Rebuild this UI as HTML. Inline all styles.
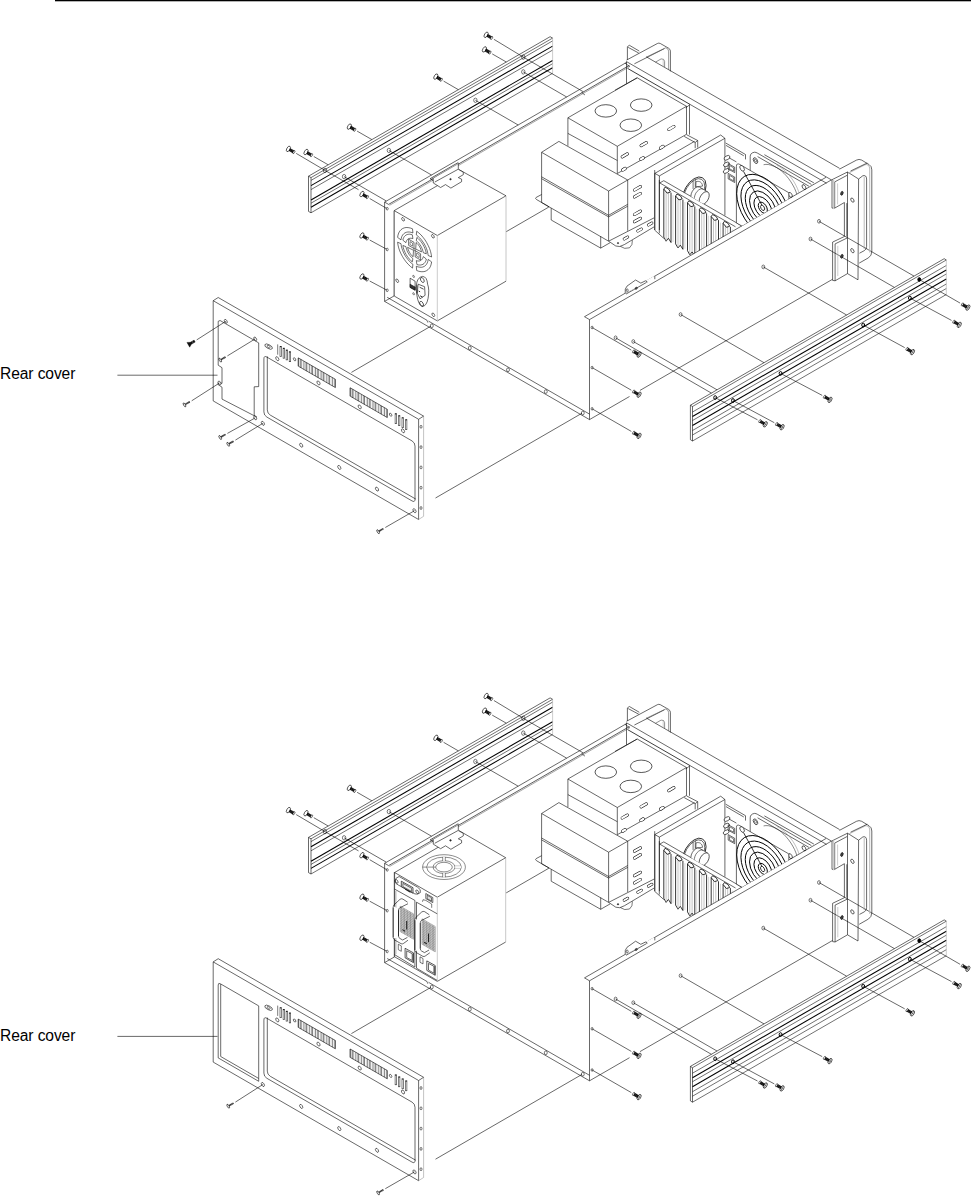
<!DOCTYPE html>
<html><head><meta charset="utf-8"><title>Rear cover</title>
<style>
html,body{margin:0;padding:0;background:#fff;}
body{width:971px;height:1196px;overflow:hidden;position:relative;font-family:"Liberation Sans",sans-serif;}
svg{position:absolute;left:0;top:0;}
.lbl{position:absolute;left:0;font-size:15.6px;line-height:18px;color:#000;white-space:nowrap;letter-spacing:-0.1px;}
</style></head><body>
<svg width="971" height="1196" viewBox="0 0 971 1196" fill="none" stroke-linecap="butt" stroke-linejoin="miter">
<rect x="55" y="0" width="916" height="1.3" fill="#000"/>
<g id="top">
<path d="M308.5 176.2L550.1 36.7" stroke="#000" stroke-width="0.59"/>
<path d="M308.5 176.2L311.0 177.6L311.0 212.8L308.5 211.4L308.5 176.2" stroke="#000" stroke-width="0.59" fill="none"/>
<path d="M311.0 177.6L552.6 38.1" stroke="#000" stroke-width="0.56"/>
<path d="M311.0 180.4L552.6 40.9" stroke="#000" stroke-width="0.56"/>
<path d="M311.0 185.6L552.6 46.1" stroke="#000" stroke-width="1.06"/>
<path d="M311.0 189.6L552.6 50.1" stroke="#000" stroke-width="0.56"/>
<path d="M311.0 200.0L552.6 60.5" stroke="#000" stroke-width="1.06"/>
<path d="M311.0 203.2L552.6 63.7" stroke="#000" stroke-width="0.56"/>
<path d="M311.0 207.2L552.6 67.7" stroke="#000" stroke-width="1.06"/>
<path d="M311.0 212.8L552.6 73.3" stroke="#000" stroke-width="0.56"/>
<path d="M550.1 36.7L552.6 38.1" stroke="#000" stroke-width="0.59"/>
<path d="M552.6 38.1L552.6 73.3" stroke="#aaa" stroke-width="0.59"/>
<path d="M690.4 405.2L944.2 258.7" stroke="#000" stroke-width="0.59"/>
<path d="M690.4 405.2L692.5 406.5L692.5 441.0L690.4 439.7L690.4 405.2" stroke="#000" stroke-width="0.59" fill="none"/>
<path d="M692.5 406.5L946.3 260.0" stroke="#000" stroke-width="0.56"/>
<path d="M692.5 412.0L946.3 265.5" stroke="#000" stroke-width="0.56"/>
<path d="M692.5 416.5L946.3 270.0" stroke="#000" stroke-width="1.06"/>
<path d="M692.5 420.5L946.3 274.0" stroke="#000" stroke-width="0.56"/>
<path d="M692.5 425.5L946.3 279.0" stroke="#000" stroke-width="1.06"/>
<path d="M692.5 430.5L946.3 284.0" stroke="#000" stroke-width="0.56"/>
<path d="M692.5 435.0L946.3 288.5" stroke="#000" stroke-width="0.56"/>
<path d="M692.5 441.0L946.3 294.5" stroke="#000" stroke-width="0.56"/>
<path d="M944.2 258.7L946.3 260.0" stroke="#000" stroke-width="0.59"/>
<path d="M946.3 260.0L946.3 294.5" stroke="#aaa" stroke-width="0.59"/>
<path d="M384.6 202.1L384.6 301.4" stroke="#000" stroke-width="0.59"/>
<path d="M394.3 211.0L394.3 296.0" stroke="#000" stroke-width="0.59"/>
<ellipse cx="387.2" cy="208.7" rx="1.02" ry="1.32" transform="rotate(0.0 387.2 208.7)" stroke="#000" stroke-width="0.53" fill="none"/>
<ellipse cx="387.2" cy="249.5" rx="1.02" ry="1.32" transform="rotate(0.0 387.2 249.5)" stroke="#000" stroke-width="0.53" fill="none"/>
<ellipse cx="387.2" cy="290.3" rx="1.02" ry="1.32" transform="rotate(0.0 387.2 290.3)" stroke="#000" stroke-width="0.53" fill="none"/>
<path d="M384.6 202.1L626.7 62.3" stroke="#000" stroke-width="0.59"/>
<path d="M384.6 202.1L388.6 204.4" stroke="#000" stroke-width="0.59"/>
<path d="M388.6 204.4L629.5 65.3" stroke="#222" stroke-width="0.73"/>
<path d="M389.5 205.3L629.5 66.7" stroke="#555" stroke-width="0.53"/>
<path d="M384.6 301.4L589.5 419.6" stroke="#000" stroke-width="0.59"/>
<path d="M387.2 297.3L427.0 320.3" stroke="#000" stroke-width="0.59"/>
<path d="M427.0 320.2L427.8 322.6" stroke="#000" stroke-width="0.53"/>
<path d="M428.5 321.1L589.5 414.1" stroke="#000" stroke-width="0.59"/>
<path d="M384.6 301.4L394.3 295.8" stroke="#000" stroke-width="0.59"/>
<ellipse cx="431.8" cy="325.8" rx="1.44" ry="1.87" transform="rotate(0.0 431.8 325.8)" stroke="#000" stroke-width="0.53" fill="none"/>
<ellipse cx="469.8" cy="348.0" rx="1.44" ry="1.87" transform="rotate(0.0 469.8 348.0)" stroke="#000" stroke-width="0.53" fill="none"/>
<ellipse cx="508.0" cy="369.8" rx="1.44" ry="1.87" transform="rotate(0.0 508.0 369.8)" stroke="#000" stroke-width="0.53" fill="none"/>
<ellipse cx="545.8" cy="391.6" rx="1.44" ry="1.87" transform="rotate(0.0 545.8 391.6)" stroke="#000" stroke-width="0.53" fill="none"/>
<ellipse cx="582.8" cy="413.0" rx="1.44" ry="1.87" transform="rotate(0.0 582.8 413.0)" stroke="#000" stroke-width="0.53" fill="none"/>
<path d="M589.5 319.6L589.5 419.6" stroke="#000" stroke-width="0.59"/>
<path d="M589.5 319.6L831.6 179.8" stroke="#000" stroke-width="0.59"/>
<path d="M589.5 319.6L584.5 316.7" stroke="#000" stroke-width="0.59"/>
<path d="M584.5 316.7L826.0 177.3" stroke="#000" stroke-width="0.59"/>
<path d="M589.5 419.6L629.5 396.5" stroke="#000" stroke-width="0.59"/>
<path d="M640.0 390.4L832.5 279.3" stroke="#000" stroke-width="0.59"/>
<ellipse cx="592.1" cy="327.5" rx="1.02" ry="1.32" transform="rotate(0.0 592.1 327.5)" stroke="#000" stroke-width="0.53" fill="none"/>
<path d="M592.1 327.5L631.3 350.1" stroke="#000" stroke-width="0.59"/>
<ellipse cx="639.1" cy="354.6" rx="1.60" ry="3.00" transform="rotate(-150.0 639.1 354.6)" stroke="#000" stroke-width="0.59" fill="#fff"/>
<path d="M637.9 356.7L640.3 352.6" stroke="#222" stroke-width="0.59"/>
<path d="M637.8 353.6L640.4 355.6" stroke="#333" stroke-width="0.53"/>
<path d="M638.1 354.1L633.9 351.6" stroke="#0a0a0a" stroke-width="2.97"/>
<path d="M635.8 354.7L637.5 351.8" stroke="#888" stroke-width="0.26"/>
<path d="M634.4 353.9L636.1 350.9" stroke="#888" stroke-width="0.26"/>
<ellipse cx="633.6" cy="351.4" rx="0.80" ry="1.70" transform="rotate(-150.0 633.6 351.4)" stroke="#000" stroke-width="0.53" fill="#fff"/>
<ellipse cx="592.1" cy="367.6" rx="1.02" ry="1.32" transform="rotate(0.0 592.1 367.6)" stroke="#000" stroke-width="0.53" fill="none"/>
<path d="M592.1 367.6L631.3 390.2" stroke="#000" stroke-width="0.59"/>
<ellipse cx="639.1" cy="394.7" rx="1.60" ry="3.00" transform="rotate(-150.0 639.1 394.7)" stroke="#000" stroke-width="0.59" fill="#fff"/>
<path d="M637.9 396.8L640.3 392.7" stroke="#222" stroke-width="0.59"/>
<path d="M637.8 393.7L640.4 395.7" stroke="#333" stroke-width="0.53"/>
<path d="M638.1 394.2L633.9 391.7" stroke="#0a0a0a" stroke-width="2.97"/>
<path d="M635.8 394.8L637.5 391.9" stroke="#888" stroke-width="0.26"/>
<path d="M634.4 394.0L636.1 391.0" stroke="#888" stroke-width="0.26"/>
<ellipse cx="633.6" cy="391.5" rx="0.80" ry="1.70" transform="rotate(-150.0 633.6 391.5)" stroke="#000" stroke-width="0.53" fill="#fff"/>
<ellipse cx="592.1" cy="408.8" rx="1.02" ry="1.32" transform="rotate(0.0 592.1 408.8)" stroke="#000" stroke-width="0.53" fill="none"/>
<path d="M592.1 408.8L631.3 431.4" stroke="#000" stroke-width="0.59"/>
<ellipse cx="639.1" cy="435.9" rx="1.60" ry="3.00" transform="rotate(-150.0 639.1 435.9)" stroke="#000" stroke-width="0.59" fill="#fff"/>
<path d="M637.9 438.0L640.3 433.9" stroke="#222" stroke-width="0.59"/>
<path d="M637.8 434.9L640.4 436.9" stroke="#333" stroke-width="0.53"/>
<path d="M638.1 435.4L633.9 432.9" stroke="#0a0a0a" stroke-width="2.97"/>
<path d="M635.8 436.0L637.5 433.1" stroke="#888" stroke-width="0.26"/>
<path d="M634.4 435.2L636.1 432.2" stroke="#888" stroke-width="0.26"/>
<ellipse cx="633.6" cy="432.7" rx="0.80" ry="1.70" transform="rotate(-150.0 633.6 432.7)" stroke="#000" stroke-width="0.53" fill="#fff"/>
<ellipse cx="819.0" cy="221.3" rx="1.44" ry="1.87" transform="rotate(0.0 819.0 221.3)" stroke="#000" stroke-width="0.53" fill="none"/>
<path d="M819.0 221.3L914.0 276.1" stroke="#000" stroke-width="0.59"/>
<path d="M919.3 279.5L960.1 303.1" stroke="#000" stroke-width="0.59"/>
<ellipse cx="919.3" cy="279.5" rx="1.44" ry="1.87" transform="rotate(0.0 919.3 279.5)" stroke="#000" stroke-width="0.99" fill="#000"/>
<ellipse cx="967.9" cy="307.6" rx="1.60" ry="3.00" transform="rotate(-150.0 967.9 307.6)" stroke="#000" stroke-width="0.59" fill="#fff"/>
<path d="M966.7 309.7L969.1 305.5" stroke="#222" stroke-width="0.59"/>
<path d="M966.6 306.6L969.2 308.6" stroke="#333" stroke-width="0.53"/>
<path d="M966.9 307.1L962.7 304.6" stroke="#0a0a0a" stroke-width="2.97"/>
<path d="M964.6 307.7L966.3 304.7" stroke="#888" stroke-width="0.26"/>
<path d="M963.2 306.8L964.9 303.9" stroke="#888" stroke-width="0.26"/>
<ellipse cx="962.4" cy="304.4" rx="0.80" ry="1.70" transform="rotate(-150.0 962.4 304.4)" stroke="#000" stroke-width="0.53" fill="#fff"/>
<ellipse cx="810.5" cy="239.0" rx="1.44" ry="1.87" transform="rotate(0.0 810.5 239.0)" stroke="#000" stroke-width="0.53" fill="none"/>
<path d="M810.5 239.0L894.4 287.4" stroke="#000" stroke-width="0.59"/>
<path d="M909.9 298.0L951.5 320.4" stroke="#000" stroke-width="0.59"/>
<ellipse cx="909.9" cy="298.0" rx="1.44" ry="1.87" transform="rotate(0.0 909.9 298.0)" stroke="#000" stroke-width="0.99" fill="none"/>
<ellipse cx="959.3" cy="324.9" rx="1.60" ry="3.00" transform="rotate(-150.0 959.3 324.9)" stroke="#000" stroke-width="0.59" fill="#fff"/>
<path d="M958.1 327.0L960.5 322.8" stroke="#222" stroke-width="0.59"/>
<path d="M958.0 323.9L960.6 325.9" stroke="#333" stroke-width="0.53"/>
<path d="M958.3 324.3L954.1 321.9" stroke="#0a0a0a" stroke-width="2.97"/>
<path d="M956.0 325.0L957.7 322.0" stroke="#888" stroke-width="0.26"/>
<path d="M954.6 324.1L956.3 321.2" stroke="#888" stroke-width="0.26"/>
<ellipse cx="953.8" cy="321.7" rx="0.80" ry="1.70" transform="rotate(-150.0 953.8 321.7)" stroke="#000" stroke-width="0.53" fill="#fff"/>
<ellipse cx="763.3" cy="266.9" rx="1.44" ry="1.87" transform="rotate(0.0 763.3 266.9)" stroke="#000" stroke-width="0.53" fill="none"/>
<path d="M763.3 266.9L846.6 315.0" stroke="#000" stroke-width="0.59"/>
<path d="M863.2 325.0L904.7 347.6" stroke="#000" stroke-width="0.59"/>
<ellipse cx="863.2" cy="325.0" rx="1.44" ry="1.87" transform="rotate(0.0 863.2 325.0)" stroke="#000" stroke-width="0.99" fill="none"/>
<ellipse cx="912.5" cy="352.1" rx="1.60" ry="3.00" transform="rotate(-150.0 912.5 352.1)" stroke="#000" stroke-width="0.59" fill="#fff"/>
<path d="M911.3 354.2L913.7 350.0" stroke="#222" stroke-width="0.59"/>
<path d="M911.2 351.1L913.8 353.1" stroke="#333" stroke-width="0.53"/>
<path d="M911.5 351.6L907.3 349.1" stroke="#0a0a0a" stroke-width="2.97"/>
<path d="M909.2 352.2L910.9 349.2" stroke="#888" stroke-width="0.26"/>
<path d="M907.8 351.3L909.5 348.4" stroke="#888" stroke-width="0.26"/>
<ellipse cx="907.0" cy="348.9" rx="0.80" ry="1.70" transform="rotate(-150.0 907.0 348.9)" stroke="#000" stroke-width="0.53" fill="#fff"/>
<ellipse cx="680.6" cy="314.5" rx="1.44" ry="1.87" transform="rotate(0.0 680.6 314.5)" stroke="#000" stroke-width="0.53" fill="none"/>
<path d="M680.6 314.5L764.0 362.7" stroke="#000" stroke-width="0.59"/>
<path d="M780.6 373.4L822.2 395.4" stroke="#000" stroke-width="0.59"/>
<ellipse cx="780.6" cy="373.4" rx="1.44" ry="1.87" transform="rotate(0.0 780.6 373.4)" stroke="#000" stroke-width="0.99" fill="none"/>
<ellipse cx="830.0" cy="399.9" rx="1.60" ry="3.00" transform="rotate(-150.0 830.0 399.9)" stroke="#000" stroke-width="0.59" fill="#fff"/>
<path d="M828.8 402.0L831.2 397.8" stroke="#222" stroke-width="0.59"/>
<path d="M828.7 398.9L831.3 400.9" stroke="#333" stroke-width="0.53"/>
<path d="M829.0 399.3L824.8 396.9" stroke="#0a0a0a" stroke-width="2.97"/>
<path d="M826.7 400.0L828.4 397.0" stroke="#888" stroke-width="0.26"/>
<path d="M825.3 399.1L827.0 396.2" stroke="#888" stroke-width="0.26"/>
<ellipse cx="824.5" cy="396.7" rx="0.80" ry="1.70" transform="rotate(-150.0 824.5 396.7)" stroke="#000" stroke-width="0.53" fill="#fff"/>
<ellipse cx="615.6" cy="337.8" rx="1.44" ry="1.87" transform="rotate(0.0 615.6 337.8)" stroke="#000" stroke-width="0.53" fill="none"/>
<path d="M615.6 337.8L711.4 393.1" stroke="#000" stroke-width="0.59"/>
<path d="M715.2 397.6L757.5 419.8" stroke="#000" stroke-width="0.59"/>
<ellipse cx="715.2" cy="397.6" rx="1.44" ry="1.87" transform="rotate(0.0 715.2 397.6)" stroke="#000" stroke-width="0.99" fill="none"/>
<ellipse cx="765.3" cy="424.3" rx="1.60" ry="3.00" transform="rotate(-150.0 765.3 424.3)" stroke="#000" stroke-width="0.59" fill="#fff"/>
<path d="M764.1 426.4L766.5 422.2" stroke="#222" stroke-width="0.59"/>
<path d="M764.0 423.3L766.6 425.3" stroke="#333" stroke-width="0.53"/>
<path d="M764.3 423.8L760.1 421.3" stroke="#0a0a0a" stroke-width="2.97"/>
<path d="M762.0 424.4L763.7 421.4" stroke="#888" stroke-width="0.26"/>
<path d="M760.6 423.5L762.3 420.6" stroke="#888" stroke-width="0.26"/>
<ellipse cx="759.8" cy="421.1" rx="0.80" ry="1.70" transform="rotate(-150.0 759.8 421.1)" stroke="#000" stroke-width="0.53" fill="#fff"/>
<ellipse cx="633.3" cy="341.5" rx="1.44" ry="1.87" transform="rotate(0.0 633.3 341.5)" stroke="#000" stroke-width="0.53" fill="none"/>
<path d="M633.3 341.5L717.0 389.8" stroke="#000" stroke-width="0.59"/>
<path d="M733.0 400.5L774.3 422.7" stroke="#000" stroke-width="0.59"/>
<ellipse cx="733.0" cy="400.5" rx="1.44" ry="1.87" transform="rotate(0.0 733.0 400.5)" stroke="#000" stroke-width="0.99" fill="none"/>
<ellipse cx="782.1" cy="427.2" rx="1.60" ry="3.00" transform="rotate(-150.0 782.1 427.2)" stroke="#000" stroke-width="0.59" fill="#fff"/>
<path d="M780.9 429.3L783.3 425.1" stroke="#222" stroke-width="0.59"/>
<path d="M780.8 426.2L783.4 428.2" stroke="#333" stroke-width="0.53"/>
<path d="M781.1 426.6L776.9 424.2" stroke="#0a0a0a" stroke-width="2.97"/>
<path d="M778.8 427.3L780.5 424.3" stroke="#888" stroke-width="0.26"/>
<path d="M777.4 426.4L779.1 423.5" stroke="#888" stroke-width="0.26"/>
<ellipse cx="776.6" cy="424.0" rx="0.80" ry="1.70" transform="rotate(-150.0 776.6 424.0)" stroke="#000" stroke-width="0.53" fill="#fff"/>
<path d="M493.9 39.3L523.3 57.1" stroke="#000" stroke-width="0.59"/>
<ellipse cx="523.3" cy="57.1" rx="1.70" ry="2.20" transform="rotate(0.0 523.3 57.1)" stroke="#000" stroke-width="0.53" fill="none"/>
<ellipse cx="486.1" cy="34.8" rx="1.60" ry="3.00" transform="rotate(30.0 486.1 34.8)" stroke="#000" stroke-width="0.59" fill="#fff"/>
<path d="M487.1 35.3L491.3 37.8" stroke="#0a0a0a" stroke-width="2.97"/>
<path d="M489.4 34.7L487.7 37.7" stroke="#888" stroke-width="0.26"/>
<path d="M490.8 35.6L489.1 38.5" stroke="#888" stroke-width="0.26"/>
<ellipse cx="491.6" cy="38.0" rx="0.80" ry="1.70" transform="rotate(30.0 491.6 38.0)" stroke="#000" stroke-width="0.53" fill="#fff"/>
<path d="M492.2 53.9L506.3 62.0" stroke="#000" stroke-width="0.59"/>
<ellipse cx="523.3" cy="71.9" rx="1.70" ry="2.20" transform="rotate(0.0 523.3 71.9)" stroke="#000" stroke-width="0.53" fill="none"/>
<ellipse cx="484.4" cy="49.4" rx="1.60" ry="3.00" transform="rotate(30.0 484.4 49.4)" stroke="#000" stroke-width="0.59" fill="#fff"/>
<path d="M485.4 49.9L489.6 52.4" stroke="#0a0a0a" stroke-width="2.97"/>
<path d="M487.7 49.3L486.0 52.3" stroke="#888" stroke-width="0.26"/>
<path d="M489.1 50.2L487.4 53.1" stroke="#888" stroke-width="0.26"/>
<ellipse cx="489.9" cy="52.6" rx="0.80" ry="1.70" transform="rotate(30.0 489.9 52.6)" stroke="#000" stroke-width="0.53" fill="#fff"/>
<path d="M443.6 81.1L458.4 89.7" stroke="#000" stroke-width="0.59"/>
<ellipse cx="475.4" cy="100.3" rx="1.70" ry="2.20" transform="rotate(0.0 475.4 100.3)" stroke="#000" stroke-width="0.53" fill="none"/>
<ellipse cx="435.8" cy="76.6" rx="1.60" ry="3.00" transform="rotate(30.0 435.8 76.6)" stroke="#000" stroke-width="0.59" fill="#fff"/>
<path d="M436.8 77.1L441.0 79.6" stroke="#0a0a0a" stroke-width="2.97"/>
<path d="M439.1 76.5L437.4 79.5" stroke="#888" stroke-width="0.26"/>
<path d="M440.5 77.4L438.8 80.3" stroke="#888" stroke-width="0.26"/>
<ellipse cx="441.3" cy="79.8" rx="0.80" ry="1.70" transform="rotate(30.0 441.3 79.8)" stroke="#000" stroke-width="0.53" fill="#fff"/>
<path d="M357.1 131.1L371.9 139.6" stroke="#000" stroke-width="0.59"/>
<ellipse cx="388.9" cy="150.4" rx="1.70" ry="2.20" transform="rotate(0.0 388.9 150.4)" stroke="#000" stroke-width="0.53" fill="none"/>
<ellipse cx="349.3" cy="126.6" rx="1.60" ry="3.00" transform="rotate(30.0 349.3 126.6)" stroke="#000" stroke-width="0.59" fill="#fff"/>
<path d="M350.3 127.1L354.5 129.6" stroke="#0a0a0a" stroke-width="2.97"/>
<path d="M352.6 126.5L350.9 129.5" stroke="#888" stroke-width="0.26"/>
<path d="M354.0 127.4L352.3 130.3" stroke="#888" stroke-width="0.26"/>
<ellipse cx="354.8" cy="129.8" rx="0.80" ry="1.70" transform="rotate(30.0 354.8 129.8)" stroke="#000" stroke-width="0.53" fill="#fff"/>
<path d="M296.2 153.4L325.0 170.4" stroke="#000" stroke-width="0.59"/>
<ellipse cx="325.0" cy="170.4" rx="1.70" ry="2.20" transform="rotate(0.0 325.0 170.4)" stroke="#000" stroke-width="0.53" fill="none"/>
<ellipse cx="288.4" cy="148.9" rx="1.60" ry="3.00" transform="rotate(30.0 288.4 148.9)" stroke="#000" stroke-width="0.59" fill="#fff"/>
<path d="M289.4 149.5L293.6 151.9" stroke="#0a0a0a" stroke-width="2.97"/>
<path d="M291.7 148.8L290.0 151.8" stroke="#888" stroke-width="0.26"/>
<path d="M293.1 149.7L291.4 152.6" stroke="#888" stroke-width="0.26"/>
<ellipse cx="293.9" cy="152.1" rx="0.80" ry="1.70" transform="rotate(30.0 293.9 152.1)" stroke="#000" stroke-width="0.53" fill="#fff"/>
<path d="M313.8 156.5L328.2 164.8" stroke="#000" stroke-width="0.59"/>
<ellipse cx="344.1" cy="176.6" rx="1.70" ry="2.20" transform="rotate(0.0 344.1 176.6)" stroke="#000" stroke-width="0.53" fill="none"/>
<ellipse cx="306.0" cy="152.0" rx="1.60" ry="3.00" transform="rotate(30.0 306.0 152.0)" stroke="#000" stroke-width="0.59" fill="#fff"/>
<path d="M307.0 152.6L311.2 155.0" stroke="#0a0a0a" stroke-width="2.97"/>
<path d="M309.3 151.9L307.6 154.9" stroke="#888" stroke-width="0.26"/>
<path d="M310.7 152.8L309.0 155.7" stroke="#888" stroke-width="0.26"/>
<ellipse cx="311.5" cy="155.2" rx="0.80" ry="1.70" transform="rotate(30.0 311.5 155.2)" stroke="#000" stroke-width="0.53" fill="#fff"/>
<path d="M523.3 57.1L583.4 91.8" stroke="#000" stroke-width="0.59"/>
<path d="M581.5 92.5L585.0 95.0" stroke="#000" stroke-width="0.53"/>
<path d="M523.3 71.9L566.7 97.0" stroke="#000" stroke-width="0.59"/>
<path d="M475.4 100.3L518.2 125.0" stroke="#000" stroke-width="0.59"/>
<path d="M388.9 150.4L431.5 175.0" stroke="#000" stroke-width="0.59"/>
<path d="M325.0 170.4L358.5 189.7" stroke="#000" stroke-width="0.59"/>
<path d="M344.1 176.6L386.2 200.9" stroke="#000" stroke-width="0.59"/>
<path d="M369.7 198.5L386.6 208.4" stroke="#000" stroke-width="0.59"/>
<ellipse cx="361.9" cy="194.0" rx="1.60" ry="3.00" transform="rotate(30.0 361.9 194.0)" stroke="#000" stroke-width="0.59" fill="#fff"/>
<path d="M362.9 194.6L367.1 197.0" stroke="#0a0a0a" stroke-width="2.97"/>
<path d="M365.2 193.9L363.5 196.9" stroke="#888" stroke-width="0.26"/>
<path d="M366.6 194.8L364.9 197.7" stroke="#888" stroke-width="0.26"/>
<ellipse cx="367.4" cy="197.2" rx="0.80" ry="1.70" transform="rotate(30.0 367.4 197.2)" stroke="#000" stroke-width="0.53" fill="#fff"/>
<path d="M369.7 240.0L386.6 249.2" stroke="#000" stroke-width="0.59"/>
<ellipse cx="361.9" cy="235.5" rx="1.60" ry="3.00" transform="rotate(30.0 361.9 235.5)" stroke="#000" stroke-width="0.59" fill="#fff"/>
<path d="M362.9 236.1L367.1 238.5" stroke="#0a0a0a" stroke-width="2.97"/>
<path d="M365.2 235.4L363.5 238.4" stroke="#888" stroke-width="0.26"/>
<path d="M366.6 236.3L364.9 239.2" stroke="#888" stroke-width="0.26"/>
<ellipse cx="367.4" cy="238.7" rx="0.80" ry="1.70" transform="rotate(30.0 367.4 238.7)" stroke="#000" stroke-width="0.53" fill="#fff"/>
<path d="M369.7 281.0L386.6 290.0" stroke="#000" stroke-width="0.59"/>
<ellipse cx="361.9" cy="276.5" rx="1.60" ry="3.00" transform="rotate(30.0 361.9 276.5)" stroke="#000" stroke-width="0.59" fill="#fff"/>
<path d="M362.9 277.1L367.1 279.5" stroke="#0a0a0a" stroke-width="2.97"/>
<path d="M365.2 276.4L363.5 279.4" stroke="#888" stroke-width="0.26"/>
<path d="M366.6 277.3L364.9 280.2" stroke="#888" stroke-width="0.26"/>
<ellipse cx="367.4" cy="279.7" rx="0.80" ry="1.70" transform="rotate(30.0 367.4 279.7)" stroke="#000" stroke-width="0.53" fill="#fff"/>
<path d="M567.9 117.8L637.2 77.8L686.5 106.3L617.3 146.3Z" stroke="#000" stroke-width="0.59" fill="none"/>
<path d="M567.9 117.8L567.9 145.8" stroke="#000" stroke-width="0.59"/>
<path d="M617.3 146.3L617.3 173.5" stroke="#000" stroke-width="0.59"/>
<path d="M567.9 133.4L617.3 160.5" stroke="#000" stroke-width="0.59"/>
<path d="M686.5 106.3L686.5 134.3" stroke="#000" stroke-width="0.59"/>
<path d="M617.3 173.5L686.5 134.3" stroke="#000" stroke-width="0.59"/>
<ellipse cx="605.8" cy="110.9" rx="10.78" ry="6.22" transform="rotate(0.0 605.8 110.9)" stroke="#000" stroke-width="0.66" fill="none"/>
<ellipse cx="641.2" cy="105.1" rx="10.78" ry="6.22" transform="rotate(0.0 641.2 105.1)" stroke="#000" stroke-width="0.66" fill="none"/>
<ellipse cx="630.8" cy="125.2" rx="10.78" ry="6.22" transform="rotate(0.0 630.8 125.2)" stroke="#000" stroke-width="0.66" fill="none"/>
<path d="M622.2 156.8L627.3 153.9" stroke="#000" stroke-width="3.08" stroke-linecap="round"/>
<path d="M622.2 156.8L627.3 153.9" stroke="#fff" stroke-width="2.12" stroke-linecap="round"/>
<path d="M641.1 145.6L646.3 142.7" stroke="#000" stroke-width="3.08" stroke-linecap="round"/>
<path d="M641.1 145.6L646.3 142.7" stroke="#fff" stroke-width="2.12" stroke-linecap="round"/>
<path d="M668.8 129.5L673.9 126.5" stroke="#000" stroke-width="3.08" stroke-linecap="round"/>
<path d="M668.8 129.5L673.9 126.5" stroke="#fff" stroke-width="2.12" stroke-linecap="round"/>
<path d="M622.8 169.9L625.1 168.5" stroke="#000" stroke-width="3.28" stroke-linecap="round"/>
<path d="M622.8 169.9L625.1 168.5" stroke="#fff" stroke-width="2.32" stroke-linecap="round"/>
<path d="M640.9 159.2L643.2 157.8" stroke="#000" stroke-width="3.28" stroke-linecap="round"/>
<path d="M640.9 159.2L643.2 157.8" stroke="#fff" stroke-width="2.32" stroke-linecap="round"/>
<path d="M660.7 147.8L663.0 146.4" stroke="#000" stroke-width="3.28" stroke-linecap="round"/>
<path d="M660.7 147.8L663.0 146.4" stroke="#fff" stroke-width="2.32" stroke-linecap="round"/>
<path d="M689.5 104.6L689.5 134.6" stroke="#000" stroke-width="0.59"/>
<path d="M685.7 107.9L689.5 104.9" stroke="#000" stroke-width="0.59"/>
<path d="M686.6 134.7L697.7 140.5L697.7 147.6" stroke="#000" stroke-width="0.59" fill="none"/>
<path d="M684.2 136.4L695.2 142.5L695.2 148.2" stroke="#000" stroke-width="0.59" fill="none"/>
<path d="M695.2 142.5L697.7 140.5" stroke="#000" stroke-width="0.59"/>
<path d="M541.6 152.3L608.6 191.0" stroke="#000" stroke-width="0.59"/>
<path d="M541.6 152.3L558.9 141.4" stroke="#000" stroke-width="0.59"/>
<path d="M558.9 141.4L627.7 180.0" stroke="#000" stroke-width="0.59"/>
<path d="M608.6 191.0L627.7 180.0" stroke="#000" stroke-width="0.59"/>
<path d="M541.6 152.3L541.6 202.5" stroke="#000" stroke-width="0.59"/>
<path d="M608.6 191.0L608.6 241.2" stroke="#000" stroke-width="0.59"/>
<path d="M541.6 202.5L608.6 241.2" stroke="#000" stroke-width="0.59"/>
<path d="M541.6 176.8L608.6 215.3" stroke="#000" stroke-width="0.59"/>
<path d="M541.6 178.7L608.6 216.9" stroke="#000" stroke-width="0.59"/>
<path d="M627.7 180.0L627.7 230.8" stroke="#000" stroke-width="0.59"/>
<path d="M608.6 215.3L627.7 204.3" stroke="#000" stroke-width="0.59"/>
<path d="M608.6 216.9L627.7 206.2" stroke="#000" stroke-width="0.59"/>
<path d="M608.6 241.2L654.0 217.9" stroke="#000" stroke-width="0.59"/>
<path d="M627.7 180.0L694.5 141.4" stroke="#000" stroke-width="0.59"/>
<path d="M634.5 190.0L640.4 186.6" stroke="#000" stroke-width="3.08" stroke-linecap="round"/>
<path d="M634.5 190.0L640.4 186.6" stroke="#fff" stroke-width="2.12" stroke-linecap="round"/>
<path d="M634.5 196.9L640.4 193.5" stroke="#000" stroke-width="3.08" stroke-linecap="round"/>
<path d="M634.5 196.9L640.4 193.5" stroke="#fff" stroke-width="2.12" stroke-linecap="round"/>
<path d="M634.5 214.5L640.4 211.1" stroke="#000" stroke-width="3.08" stroke-linecap="round"/>
<path d="M634.5 214.5L640.4 211.1" stroke="#fff" stroke-width="2.12" stroke-linecap="round"/>
<path d="M634.5 221.7L640.4 218.3" stroke="#000" stroke-width="3.08" stroke-linecap="round"/>
<path d="M634.5 221.7L640.4 218.3" stroke="#fff" stroke-width="2.12" stroke-linecap="round"/>
<path d="M609.1 241.5L615.8 246.0Q619.4 247.8 624.5 244.5L654.0 226.9" stroke="#000" stroke-width="0.59" fill="none"/>
<path d="M620.4 246.4Q624.5 249.6 629.5 247.8Q632.8 245.3 632.4 240.2" stroke="#000" stroke-width="0.53" fill="none"/>
<path d="M624.2 239.1L627.7 237.0" stroke="#000" stroke-width="2.88" stroke-linecap="round"/>
<path d="M624.2 239.1L627.7 237.0" stroke="#fff" stroke-width="1.92" stroke-linecap="round"/>
<path d="M637.8 231.1L641.4 229.1" stroke="#000" stroke-width="2.88" stroke-linecap="round"/>
<path d="M637.8 231.1L641.4 229.1" stroke="#fff" stroke-width="1.92" stroke-linecap="round"/>
<path d="M648.4 225.1L651.9 223.0" stroke="#000" stroke-width="2.88" stroke-linecap="round"/>
<path d="M648.4 225.1L651.9 223.0" stroke="#fff" stroke-width="1.92" stroke-linecap="round"/>
<circle cx="618.0" cy="243.1" r="0.70" stroke="#000" stroke-width="0.40" fill="#000"/>
<path d="M541.6 194.5L536.2 197.4Q534.8 198.4 536.5 199.5L549.2 206.9" stroke="#000" stroke-width="0.59" fill="none"/>
<path d="M551.2 208.1L551.2 220.0L600.7 248.1L600.7 236.3" stroke="#000" stroke-width="0.59" fill="none"/>
<path d="M600.7 248.1L610.1 242.7" stroke="#000" stroke-width="0.59"/>
<path d="M506.2 231.7L548.9 207.0" stroke="#000" stroke-width="0.59"/>
<path d="M646.3 56.8L839.5 168.3" stroke="#000" stroke-width="0.59"/>
<path d="M626.5 61.6L831.6 180.0" stroke="#000" stroke-width="0.59"/>
<path d="M627.6 68.4L690.0 104.4" stroke="#000" stroke-width="0.76"/>
<path d="M690.0 104.4L826.5 183.2" stroke="#000" stroke-width="0.59"/>
<path d="M626.5 61.6L626.5 83.6" stroke="#000" stroke-width="0.59"/>
<path d="M615.0 90.2L637.2 77.8" stroke="#000" stroke-width="0.59"/>
<path d="M624.9 63.0L629.8 66.7" stroke="#000" stroke-width="0.59"/>
<path d="M627.4 59.7L627.4 46.7L629.4 45.3L639.3 51.1" stroke="#000" stroke-width="0.59" fill="none"/>
<path d="M628.2 47.4L638.7 53.0" stroke="#000" stroke-width="0.59"/>
<path d="M626.5 60.1L657.4 43.5Q658.8 42.7 660.3 43.5L668.6 48.2Q670.4 49.2 670.4 51.1L670.4 71.3" stroke="#000" stroke-width="0.59" fill="none"/>
<path d="M634.4 63.8L664.4 48.6" stroke="#000" stroke-width="0.59"/>
<path d="M646.3 57.1L665.7 47.8Q668.4 48.2 668.6 51.1L668.6 70.0" stroke="#555" stroke-width="0.59" fill="none"/>
<path d="M655.4 62.2L661.1 58.9Q664.3 58.5 664.6 61.4L664.6 67.1" stroke="#444" stroke-width="0.59" fill="none"/>
<path d="M663.2 59.7L663.2 66.3" stroke="#aaa" stroke-width="0.59"/>
<path d="M847.5 172.0L832.0 179.7L832.0 208.1L834.7 208.1L844.4 202.5L844.4 236.5" stroke="#000" stroke-width="0.59" fill="none"/>
<path d="M834.7 208.1L834.7 181.9" stroke="#000" stroke-width="0.59"/>
<path d="M834.7 181.9L847.1 175.3" stroke="#000" stroke-width="0.59"/>
<path d="M837.6 183.4L837.6 204.4" stroke="#aaa" stroke-width="0.59"/>
<path d="M844.4 236.5L832.6 242.1L832.6 280.4L835.1 280.8L847.5 273.6" stroke="#000" stroke-width="0.59" fill="none"/>
<path d="M835.1 280.8L835.1 243.9" stroke="#000" stroke-width="0.59"/>
<path d="M835.1 243.9L847.1 238.0" stroke="#000" stroke-width="0.59"/>
<path d="M837.8 245.8L837.8 276.1" stroke="#aaa" stroke-width="0.59"/>
<path d="M846.8 203.1L846.8 236.5" stroke="#000" stroke-width="0.59"/>
<path d="M847.5 172.0L847.5 273.6L858.0 279.8L858.6 179.0L847.5 172.0" stroke="#000" stroke-width="0.59" fill="none"/>
<ellipse cx="852.4" cy="200.1" rx="2.33" ry="1.34" transform="rotate(60.0 852.4 200.1)" stroke="#000" stroke-width="0.59" fill="none"/>
<ellipse cx="852.4" cy="250.7" rx="2.33" ry="1.34" transform="rotate(60.0 852.4 250.7)" stroke="#000" stroke-width="0.59" fill="none"/>
<ellipse cx="841.9" cy="193.3" rx="1.20" ry="2.00" transform="rotate(20.0 841.9 193.3)" stroke="#000" stroke-width="0.53" fill="#444"/>
<ellipse cx="841.9" cy="256.3" rx="1.20" ry="2.00" transform="rotate(20.0 841.9 256.3)" stroke="#000" stroke-width="0.53" fill="#444"/>
<path d="M839.4 169.2L856.5 160.1Q859.0 158.7 861.7 160.1L869.1 164.6Q871.8 166.1 871.8 169.8L871.8 251.3Q871.8 255.7 868.5 257.8L859.2 263.1" stroke="#000" stroke-width="0.59" fill="none"/>
<path d="M848.1 173.2L865.4 164.6Q869.3 164.2 869.7 168.5L869.7 252.6" stroke="#bbb" stroke-width="1.06" fill="none"/>
<path d="M858.6 179.0L862.9 175.7Q866.4 174.7 866.6 179.0L866.6 246.4Q866.6 249.5 864.2 250.7L859.5 253.2" stroke="#000" stroke-width="0.59" fill="none"/>
<path d="M864.2 176.6L864.2 248.9" stroke="#888" stroke-width="0.59"/>
<path d="M850.6 171.0L867.2 163.0" stroke="#000" stroke-width="0.59"/>
<path d="M646.5 281.1L654.5 276.6" stroke="#fff" stroke-width="1.45"/>
<path d="M625.2 293.3Q624.5 288.6 627.0 286.1L635.6 280.0L640.8 283.1L645.5 280.8L647.5 282.0" stroke="#000" stroke-width="0.59" fill="#fff"/>
<path d="M626.0 294.1L646.7 282.3" stroke="#000" stroke-width="0.59"/>
<path d="M654.8 279.2L654.8 276.3" stroke="#000" stroke-width="0.59"/>
<ellipse cx="627.2" cy="290.2" rx="1.00" ry="1.30" transform="rotate(0.0 627.2 290.2)" stroke="#000" stroke-width="0.53" fill="none"/>
<ellipse cx="636.2" cy="288.3" rx="1.20" ry="0.90" transform="rotate(-30.0 636.2 288.3)" stroke="#000" stroke-width="0.53" fill="#555"/>
<path d="M654.8 230.0L654.8 173.4L720.7 135.0L724.9 138.3L724.9 215.5" stroke="#000" stroke-width="0.59" fill="none"/>
<path d="M659.4 175.9L724.9 138.3" stroke="#000" stroke-width="0.59"/>
<path d="M659.4 175.9L659.4 230.0" stroke="#000" stroke-width="0.59"/>
<path d="M654.8 173.4L659.4 175.9" stroke="#000" stroke-width="0.59"/>
<path d="M654.7 170.0L654.7 230.1" stroke="#000" stroke-width="0.59"/>
<path d="M659.3 179.9L659.3 233.4" stroke="#000" stroke-width="0.59"/>
<path d="M654.7 230.1L663.8 238.4" stroke="#000" stroke-width="0.59"/>
<path d="M663.8 180.7L742.0 226.0" stroke="#000" stroke-width="0.59"/>
<path d="M659.7 182.9L735.5 226.8" stroke="#000" stroke-width="0.59"/>
<path d="M659.7 182.9L663.8 180.7" stroke="#000" stroke-width="0.59"/>
<clipPath id="slatclipa"><path d="M620.0 296.2L760.0 215.4L760 100L620 100Z"/></clipPath>
<g clip-path="url(#slatclipa)">
<path d="M663.8 189.1L663.8 237.1L666.1 241.2L668.4 238.2L671.0 242.5L671.0 192.7" stroke="#000" stroke-width="0.79" fill="none"/>
<path d="M666.1 191.4L666.1 241.2" stroke="#999" stroke-width="0.59"/>
<path d="M668.4 192.4L668.4 238.2" stroke="#999" stroke-width="0.59"/>
<path d="M663.8 189.1L665.1 187.1L668.7 189.1L670.4 192.1L667.1 193.1L663.8 189.1" stroke="#000" stroke-width="0.79" fill="none"/>
<path d="M673.0 195.2L673.0 242.0" stroke="#bbb" stroke-width="0.59"/>
<path d="M675.6 196.0L675.6 243.9L678.0 248.0L680.3 245.1L682.9 249.3L682.9 199.6" stroke="#000" stroke-width="0.79" fill="none"/>
<path d="M678.0 198.3L678.0 248.0" stroke="#999" stroke-width="0.59"/>
<path d="M680.3 199.2L680.3 245.1" stroke="#999" stroke-width="0.59"/>
<path d="M675.6 196.0L677.0 194.0L680.6 196.0L682.2 198.9L678.9 199.9L675.6 196.0" stroke="#000" stroke-width="0.79" fill="none"/>
<path d="M684.9 202.0L684.9 248.8" stroke="#bbb" stroke-width="0.59"/>
<path d="M687.5 202.8L687.5 250.7L689.8 254.9L692.1 251.9L694.8 256.2L694.8 206.4" stroke="#000" stroke-width="0.79" fill="none"/>
<path d="M689.8 205.1L689.8 254.9" stroke="#999" stroke-width="0.59"/>
<path d="M692.1 206.1L692.1 251.9" stroke="#999" stroke-width="0.59"/>
<path d="M687.5 202.8L688.8 200.8L692.5 202.8L694.1 205.8L690.8 206.7L687.5 202.8" stroke="#000" stroke-width="0.79" fill="none"/>
<path d="M696.7 208.9L696.7 255.7" stroke="#bbb" stroke-width="0.59"/>
<path d="M699.4 209.6L699.4 257.6L701.7 261.7L704.0 258.7L706.6 263.0L706.6 213.3" stroke="#000" stroke-width="0.79" fill="none"/>
<path d="M701.7 211.9L701.7 261.7" stroke="#999" stroke-width="0.59"/>
<path d="M704.0 212.9L704.0 258.7" stroke="#999" stroke-width="0.59"/>
<path d="M699.4 209.6L700.7 207.7L704.3 209.6L706.0 212.6L702.7 213.6L699.4 209.6" stroke="#000" stroke-width="0.79" fill="none"/>
<path d="M708.6 215.7L708.6 262.5" stroke="#bbb" stroke-width="0.59"/>
<path d="M711.2 216.5L711.2 264.4L713.5 268.5L715.8 265.6L718.5 269.9L718.5 220.1" stroke="#000" stroke-width="0.79" fill="none"/>
<path d="M713.5 218.8L713.5 268.5" stroke="#999" stroke-width="0.59"/>
<path d="M715.8 219.8L715.8 265.6" stroke="#999" stroke-width="0.59"/>
<path d="M711.2 216.5L712.6 214.5L716.2 216.5L717.8 219.4L714.5 220.4L711.2 216.5" stroke="#000" stroke-width="0.79" fill="none"/>
<path d="M720.5 222.6L720.5 269.4" stroke="#bbb" stroke-width="0.59"/>
<path d="M723.1 223.3L723.1 271.3L725.4 275.4L727.7 272.4L730.4 276.7L730.4 226.9" stroke="#000" stroke-width="0.79" fill="none"/>
<path d="M725.4 225.6L725.4 275.4" stroke="#999" stroke-width="0.59"/>
<path d="M727.7 226.6L727.7 272.4" stroke="#999" stroke-width="0.59"/>
<path d="M723.1 223.3L724.4 221.3L728.0 223.3L729.7 226.3L726.4 227.3L723.1 223.3" stroke="#000" stroke-width="0.79" fill="none"/>
<path d="M732.3 229.4L732.3 276.2" stroke="#bbb" stroke-width="0.59"/>
</g>
<clipPath id="sfclipa"><path d="M663.8 180.7L742.0 226.0L742.0 100L663.8 100Z"/></clipPath>
<g clip-path="url(#sfclipa)">
<ellipse cx="694.2" cy="192.3" rx="16.78" ry="9.69" transform="rotate(-60.0 694.2 192.3)" stroke="#000" stroke-width="0.73" fill="none"/>
<ellipse cx="694.2" cy="192.3" rx="14.94" ry="8.63" transform="rotate(-60.0 694.2 192.3)" stroke="#000" stroke-width="0.53" fill="none"/>
<path d="M695.3 187.7L695.3 179.5" stroke="#000" stroke-width="0.53"/>
<path d="M693.1 189.0L693.1 180.8" stroke="#000" stroke-width="0.53"/>
<path d="M702.6 186.1L702.3 184.8L701.9 183.7L701.2 182.7L700.4 182.0L699.5 181.6L698.4 181.4L697.2 181.4L696.0 181.7L695.9 186.8Z" stroke="#000" stroke-width="0.53" fill="none"/>
<path d="M699.5 187.1L707.7 191.9L700.6 204.2L692.4 199.5Z" stroke="#fff" stroke-width="0.01" fill="#fff"/>
<ellipse cx="695.9" cy="193.3" rx="7.10" ry="4.10" transform="rotate(-60.0 695.9 193.3)" stroke="#000" stroke-width="0.53" fill="#fff"/>
<path d="M699.5 187.1L707.7 191.9L700.6 204.2L692.4 199.5Z" stroke="#fff" stroke-width="0.01" fill="#fff"/>
<path d="M699.5 187.1L707.7 191.9" stroke="#000" stroke-width="0.59"/>
<path d="M692.4 199.5L700.6 204.2" stroke="#000" stroke-width="0.59"/>
<ellipse cx="704.2" cy="198.1" rx="7.10" ry="4.10" transform="rotate(-60.0 704.2 198.1)" stroke="#000" stroke-width="0.59" fill="#fff"/>
<path d="M702.9 189.1L701.7 188.8L700.2 189.1L698.6 190.0L697.1 191.4L695.8 193.2L694.9 195.3L694.4 197.3L694.4 199.1L694.9 200.5L695.8 201.5" stroke="#000" stroke-width="0.53" fill="none"/>
</g>
<path d="M725.7 143.0L745.5 154.5" stroke="#000" stroke-width="0.59"/>
<path d="M726.0 145.4L743.8 155.8" stroke="#000" stroke-width="0.59"/>
<path d="M745.5 154.5L745.5 159.4" stroke="#000" stroke-width="0.59"/>
<ellipse cx="727.0" cy="157.8" rx="3.20" ry="1.90" transform="rotate(-30.0 727.0 157.8)" stroke="#000" stroke-width="0.59" fill="#fff"/>
<ellipse cx="726.5" cy="164.4" rx="3.20" ry="1.90" transform="rotate(-30.0 726.5 164.4)" stroke="#000" stroke-width="0.59" fill="#fff"/>
<ellipse cx="726.2" cy="171.0" rx="3.20" ry="1.90" transform="rotate(-30.0 726.2 171.0)" stroke="#000" stroke-width="0.59" fill="#fff"/>
<path d="M728.2 163.6L734.7 167.2L734.7 172.6L728.2 169.0Z" stroke="#000" stroke-width="0.59" fill="none"/>
<path d="M729.5 165.5L733.6 167.8L733.6 171.0L729.5 168.7Z" stroke="#000" stroke-width="0.53" fill="none"/>
<path d="M728.2 173.4L734.7 177.1L734.7 182.5L728.2 178.9Z" stroke="#000" stroke-width="0.59" fill="none"/>
<path d="M729.5 175.4L733.6 177.7L733.6 180.9L729.5 178.5Z" stroke="#000" stroke-width="0.53" fill="none"/>
<path d="M729.0 157.8L736.4 161.9" stroke="#000" stroke-width="0.59"/>
<path d="M750.2 170.8L750.2 156.6Q750.2 152.9 754.5 152.2Q756.0 152.2 757.6 153.2L811.4 184.4" stroke="#000" stroke-width="0.59" fill="none"/>
<path d="M757.6 156.6L808.9 186.2" stroke="#000" stroke-width="0.59"/>
<path d="M764.4 154.7L813.9 182.9" stroke="#000" stroke-width="0.59"/>
<ellipse cx="755.5" cy="160.6" rx="3.18" ry="1.84" transform="rotate(60.0 755.5 160.6)" stroke="#000" stroke-width="0.59" fill="none"/>
<ellipse cx="755.5" cy="160.6" rx="1.59" ry="0.92" transform="rotate(60.0 755.5 160.6)" stroke="#000" stroke-width="0.46" fill="none"/>
<ellipse cx="804.0" cy="187.1" rx="2.69" ry="1.56" transform="rotate(60.0 804.0 187.1)" stroke="#000" stroke-width="0.59" fill="none"/>
<ellipse cx="790.4" cy="194.9" rx="2.69" ry="1.56" transform="rotate(60.0 790.4 194.9)" stroke="#000" stroke-width="0.59" fill="none"/>
<clipPath id="fbclipa"><path d="M700.0 250.0L840.0 169.2L840 100L700 100Z"/></clipPath>
<g clip-path="url(#fbclipa)">
<path d="M794.2 219.8L795.8 218.1L797.0 216.1L798.0 213.8L798.6 211.2L799.0 208.3L799.0 205.2L798.7 202.0L798.1 198.7L797.2 195.2L796.0 191.8L794.6 188.4L792.8 185.0L790.9 181.8L788.7 178.7L786.4 175.9L784.0 173.3L781.4 170.9L778.8 168.9L776.1 167.3L773.4 166.0L770.8 165.1L768.3 164.5L765.9 164.4L763.6 164.7" stroke="#333" stroke-width="0.59" fill="none"/>
<path d="M796.4 218.5L797.7 217.1L798.8 215.6L799.7 213.8L800.4 211.8L800.9 209.6L801.1 207.3L801.2 204.8L801.1 202.3L800.7 199.6L800.2 196.8L799.4 194.0L798.5 191.2L797.4 188.4L796.1 185.7L794.6 182.9L793.0 180.3L791.2 177.8L789.4 175.4L787.4 173.2L785.3 171.2L783.2 169.4L781.1 167.7L778.9 166.3L776.7 165.2" stroke="#888" stroke-width="0.53" fill="none"/>
</g>
<g clip-path="url(#fbclipa)">
<path d="M736.4 222.9L736.4 166.5Q736.4 162.5 739.9 164.5L788.8 192.7L788.8 253.1L736.4 222.9Z" stroke="#000" stroke-width="0.59" fill="#fff"/>
<ellipse cx="762.8" cy="207.7" rx="6.12" ry="3.73" transform="rotate(58.0 762.8 207.7)" stroke="#000" stroke-width="0.89" fill="none"/>
<ellipse cx="762.9" cy="207.6" rx="12.12" ry="7.38" transform="rotate(58.0 762.9 207.6)" stroke="#000" stroke-width="0.89" fill="none"/>
<ellipse cx="763.0" cy="207.5" rx="18.25" ry="11.10" transform="rotate(58.0 763.0 207.5)" stroke="#000" stroke-width="0.89" fill="none"/>
<ellipse cx="763.2" cy="207.4" rx="24.25" ry="14.75" transform="rotate(58.0 763.2 207.4)" stroke="#000" stroke-width="0.89" fill="none"/>
<ellipse cx="763.3" cy="207.3" rx="30.25" ry="18.40" transform="rotate(58.0 763.3 207.3)" stroke="#000" stroke-width="0.89" fill="none"/>
<ellipse cx="763.5" cy="207.2" rx="36.25" ry="22.05" transform="rotate(58.0 763.5 207.2)" stroke="#000" stroke-width="0.89" fill="none"/>
<ellipse cx="762.6" cy="207.8" rx="2.94" ry="1.70" transform="rotate(60.0 762.6 207.8)" stroke="#000" stroke-width="0.73" fill="none"/>
<ellipse cx="742.1" cy="168.3" rx="3.18" ry="1.84" transform="rotate(60.0 742.1 168.3)" stroke="#000" stroke-width="0.59" fill="#fff"/>
<path d="M743.6 171.5L761.9 205.2" stroke="#000" stroke-width="0.79"/>
</g>
<path d="M833.6 179.4L833.6 209.1" stroke="#ccc" stroke-width="1.32"/>
<path d="M117.4 375.2L217.5 375.2" stroke="#000" stroke-width="0.59"/>
<path d="M394.2 210.6L437.3 235.5L437.3 320.9L394.2 296.0Z" stroke="#fff" stroke-width="0.01" fill="#fff"/>
<path d="M437.3 235.5L506.0 195.8L506.0 281.2L437.3 320.9Z" stroke="#fff" stroke-width="0.01" fill="#fff"/>
<path d="M394.2 296.0L394.2 210.6L437.3 235.5L506.0 195.8" stroke="#000" stroke-width="0.59" fill="none"/>
<path d="M394.2 296.0L437.3 320.9L506.0 281.2" stroke="#000" stroke-width="0.59" fill="none"/>
<path d="M437.3 235.5L437.3 320.9" stroke="#c4c4c4" stroke-width="0.86"/>
<path d="M506.0 195.8L506.0 281.2" stroke="#aaa" stroke-width="0.66"/>
<path d="M394.2 210.6L440.6 183.8" stroke="#000" stroke-width="0.59"/>
<path d="M459.0 169.6L506.0 195.8" stroke="#000" stroke-width="0.59"/>
<path d="M433.2 178.4L433.3 183.0L440.6 187.5L445.5 184.6L450.9 188.1L461.6 181.7L461.6 179.2L458.3 177.6L463.3 174.7L463.3 172.2L458.3 169.4L458.3 163.2" stroke="#000" stroke-width="0.59" fill="#fff"/>
<path d="M434.7 182.1L457.9 169.4" stroke="#000" stroke-width="0.59"/>
<circle cx="450.5" cy="179.2" r="0.80" stroke="#000" stroke-width="0.40" fill="#333"/>
<path d="M430.1 178.7L458.3 162.5" stroke="#222" stroke-width="0.73"/>
<path d="M431.0 179.3L458.7 163.5" stroke="#555" stroke-width="0.53"/>
<path d="M430.1 178.7L433.2 180.6" stroke="#000" stroke-width="0.53"/>
<ellipse cx="403.1" cy="219.3" rx="1.96" ry="1.13" transform="rotate(60.0 403.1 219.3)" stroke="#000" stroke-width="0.53" fill="none"/>
<ellipse cx="432.9" cy="236.3" rx="1.96" ry="1.13" transform="rotate(60.0 432.9 236.3)" stroke="#000" stroke-width="0.53" fill="none"/>
<ellipse cx="397.2" cy="280.7" rx="1.96" ry="1.13" transform="rotate(60.0 397.2 280.7)" stroke="#000" stroke-width="0.53" fill="none"/>
<ellipse cx="433.3" cy="314.8" rx="1.96" ry="1.13" transform="rotate(60.0 433.3 314.8)" stroke="#000" stroke-width="0.53" fill="none"/>
<path d="M431.6 257.0L431.2 254.2L430.5 251.3L429.5 248.4L428.2 245.5L426.7 242.6L425.0 239.9L423.1 237.4L421.1 235.0L418.9 233.0L416.7 231.2L416.3 234.9L418.0 236.3L419.8 238.0L421.4 239.8L422.9 241.9L424.3 244.0L425.5 246.3L426.5 248.6L427.3 251.0L427.8 253.3L428.2 255.5Z" stroke="#000" stroke-width="0.56" fill="none"/>
<path d="M426.3 253.8L426.0 252.0L425.5 250.2L424.8 248.3L424.0 246.5L423.0 244.7L422.0 243.0L420.8 241.4L419.6 240.0L418.2 238.6L416.9 237.4L416.3 240.6L417.3 241.5L418.3 242.5L419.2 243.6L420.0 244.8L420.8 246.0L421.5 247.3L422.1 248.7L422.6 250.0L423.0 251.4L423.3 252.7Z" stroke="#000" stroke-width="0.56" fill="none"/>
<path d="M412.5 228.8L410.3 228.0L408.1 227.6L406.1 227.5L404.2 227.9L402.5 228.6L401.0 229.7L399.7 231.2L398.7 233.0L398.0 235.1L397.6 237.4L401.0 239.9L401.3 238.0L401.9 236.3L402.7 234.9L403.7 233.8L404.9 232.9L406.3 232.3L407.8 232.0L409.4 232.0L411.1 232.3L412.9 233.0Z" stroke="#000" stroke-width="0.56" fill="none"/>
<path d="M412.3 234.8L410.9 234.4L409.6 234.2L408.4 234.3L407.2 234.5L406.1 235.0L405.2 235.7L404.4 236.5L403.7 237.6L403.2 238.8L402.9 240.2L405.9 242.7L406.2 241.7L406.6 240.7L407.0 240.0L407.6 239.3L408.3 238.8L409.1 238.5L410.0 238.3L410.9 238.2L411.9 238.4L412.9 238.6Z" stroke="#000" stroke-width="0.56" fill="none"/>
<path d="M397.6 242.2L398.0 245.0L398.7 247.9L399.7 250.9L401.0 253.8L402.5 256.6L404.2 259.3L406.1 261.9L408.1 264.2L410.3 266.3L412.5 268.1L412.9 264.3L411.1 262.9L409.4 261.3L407.8 259.4L406.3 257.4L404.9 255.2L403.7 252.9L402.7 250.6L401.9 248.3L401.3 246.0L401.0 243.7Z" stroke="#000" stroke-width="0.56" fill="none"/>
<path d="M402.9 245.5L403.2 247.3L403.7 249.1L404.4 250.9L405.2 252.7L406.1 254.5L407.2 256.2L408.4 257.8L409.6 259.3L410.9 260.7L412.3 261.9L412.9 258.7L411.9 257.8L410.9 256.8L410.0 255.7L409.1 254.5L408.3 253.2L407.6 251.9L407.0 250.6L406.6 249.2L406.2 247.9L405.9 246.6Z" stroke="#000" stroke-width="0.56" fill="none"/>
<path d="M416.7 270.5L418.9 271.3L421.1 271.7L423.1 271.7L425.0 271.4L426.7 270.6L428.2 269.5L429.5 268.1L430.5 266.3L431.2 264.2L431.6 261.9L428.2 259.4L427.8 261.3L427.3 262.9L426.5 264.3L425.5 265.5L424.3 266.4L422.9 267.0L421.4 267.3L419.8 267.2L418.0 266.9L416.3 266.3Z" stroke="#000" stroke-width="0.56" fill="none"/>
<path d="M416.9 264.5L418.2 264.9L419.6 265.0L420.8 265.0L422.0 264.7L423.0 264.3L424.0 263.6L424.8 262.7L425.5 261.6L426.0 260.4L426.3 259.0L423.3 256.6L423.0 257.6L422.6 258.5L422.1 259.3L421.5 259.9L420.8 260.4L420.0 260.8L419.2 261.0L418.3 261.0L417.3 260.9L416.3 260.6Z" stroke="#000" stroke-width="0.56" fill="none"/>
<path d="M408.6 245.4L414.0 248.5L414.0 242.3L408.6 239.2Z" stroke="#000" stroke-width="0.56" fill="none"/>
<path d="M410.0 244.6L412.6 246.1L412.6 243.1L410.0 241.6Z" stroke="#000" stroke-width="0.46" fill="none"/>
<path d="M415.2 256.9L420.6 260.0L420.6 253.8L415.2 250.7Z" stroke="#000" stroke-width="0.56" fill="none"/>
<path d="M416.6 256.1L419.2 257.6L419.2 254.6L416.6 253.1Z" stroke="#000" stroke-width="0.46" fill="none"/>
<path d="M421.5 251.9L421.2 250.6L420.8 249.3L420.3 248.0L419.6 246.7L418.8 245.5L418.0 244.4L417.0 243.4L416.1 242.5L415.7 249.0Z" stroke="#000" stroke-width="0.56" fill="none"/>
<path d="M407.6 247.3L407.9 248.6L408.3 249.9L408.9 251.2L409.6 252.5L410.3 253.7L411.2 254.9L412.1 255.9L413.1 256.8L413.5 250.3Z" stroke="#000" stroke-width="0.56" fill="none"/>
<ellipse cx="414.6" cy="249.6" rx="1.10" ry="0.64" transform="rotate(60.0 414.6 249.6)" stroke="#000" stroke-width="0.46" fill="none"/>
<path d="M410.1 278.2L415.1 281.2L415.1 290.2L410.1 287.4Z" stroke="#000" stroke-width="0.59" fill="none"/>
<path d="M410.1 284.2L415.1 287.0L415.1 290.2L410.1 287.4Z" stroke="#000" stroke-width="0.53" fill="#333"/>
<ellipse cx="413.6" cy="276.4" rx="1.22" ry="0.71" transform="rotate(60.0 413.6 276.4)" stroke="#000" stroke-width="0.46" fill="none"/>
<ellipse cx="413.6" cy="293.8" rx="1.22" ry="0.71" transform="rotate(60.0 413.6 293.8)" stroke="#000" stroke-width="0.46" fill="none"/>
<path d="M422.6 276.4Q427.1 276.7 427.6 284.2Q429.6 289.2 428.1 298.3Q426.6 306.3 422.1 306.5Q418.1 304.3 416.9 295.3Q415.1 287.2 416.9 282.2Q418.1 277.2 422.6 276.4Z" stroke="#000" stroke-width="0.59" fill="none"/>
<ellipse cx="422.3" cy="280.0" rx="2.69" ry="1.56" transform="rotate(60.0 422.3 280.0)" stroke="#000" stroke-width="0.59" fill="none"/>
<ellipse cx="421.6" cy="303.8" rx="2.69" ry="1.56" transform="rotate(60.0 421.6 303.8)" stroke="#000" stroke-width="0.59" fill="none"/>
<path d="M418.1 284.2L424.6 286.7L425.1 295.3L420.1 298.8L417.3 293.3Z" stroke="#000" stroke-width="0.59" fill="none"/>
<path d="M419.6 287.2L423.6 289.2" stroke="#222" stroke-width="0.79"/>
<path d="M418.6 291.0L420.1 291.8" stroke="#222" stroke-width="0.92"/>
<path d="M420.1 295.8L422.6 297.1" stroke="#222" stroke-width="0.92"/>
<path d="M416.9 285.2L416.9 293.3" stroke="#333" stroke-width="1.06"/>
<path d="M213.2 300.7L418.6 419.3L418.6 519.5L213.2 400.9Z" stroke="#000" stroke-width="0.59" fill="none"/>
<path d="M213.2 300.7L218.2 297.5L423.6 416.1" stroke="#000" stroke-width="0.59" fill="none"/>
<path d="M423.6 416.1L423.6 516.3L418.6 519.5" stroke="#999" stroke-width="0.59" fill="none"/>
<path d="M418.6 419.3L423.6 416.1" stroke="#000" stroke-width="0.59"/>
<ellipse cx="421.0" cy="426.8" rx="1.00" ry="1.50" transform="rotate(0.0 421.0 426.8)" stroke="#000" stroke-width="0.53" fill="none"/>
<ellipse cx="421.0" cy="447.1" rx="1.00" ry="1.50" transform="rotate(0.0 421.0 447.1)" stroke="#000" stroke-width="0.53" fill="none"/>
<ellipse cx="421.0" cy="467.4" rx="1.00" ry="1.50" transform="rotate(0.0 421.0 467.4)" stroke="#000" stroke-width="0.53" fill="none"/>
<ellipse cx="421.0" cy="487.7" rx="1.00" ry="1.50" transform="rotate(0.0 421.0 487.7)" stroke="#000" stroke-width="0.53" fill="none"/>
<ellipse cx="421.0" cy="508.0" rx="1.00" ry="1.50" transform="rotate(0.0 421.0 508.0)" stroke="#000" stroke-width="0.53" fill="none"/>
<path d="M266.9 357.1L412.0 440.9Q415.0 442.6 415.0 446.1L415.0 499.1Q415.0 502.6 412.0 500.9L266.9 417.1Q263.9 415.4 263.9 411.9L263.9 358.9Q263.9 355.4 266.9 357.1Z" stroke="#000" stroke-width="0.59" fill="none"/>
<path d="M267.3 356.4L267.3 409.9Q267.3 413.4 270.3 415.1L415.8 499.1" stroke="#000" stroke-width="0.59" fill="none"/>
<ellipse cx="277.3" cy="358.7" rx="2.20" ry="1.27" transform="rotate(60.0 277.3 358.7)" stroke="#000" stroke-width="0.53" fill="none"/>
<ellipse cx="318.5" cy="382.9" rx="2.20" ry="1.27" transform="rotate(60.0 318.5 382.9)" stroke="#000" stroke-width="0.53" fill="none"/>
<ellipse cx="359.7" cy="406.9" rx="2.20" ry="1.27" transform="rotate(60.0 359.7 406.9)" stroke="#000" stroke-width="0.53" fill="none"/>
<ellipse cx="403.0" cy="430.8" rx="2.20" ry="1.27" transform="rotate(60.0 403.0 430.8)" stroke="#000" stroke-width="0.53" fill="none"/>
<ellipse cx="301.2" cy="445.2" rx="2.20" ry="1.27" transform="rotate(60.0 301.2 445.2)" stroke="#000" stroke-width="0.53" fill="none"/>
<ellipse cx="339.3" cy="467.4" rx="2.20" ry="1.27" transform="rotate(60.0 339.3 467.4)" stroke="#000" stroke-width="0.53" fill="none"/>
<ellipse cx="377.0" cy="489.1" rx="2.20" ry="1.27" transform="rotate(60.0 377.0 489.1)" stroke="#000" stroke-width="0.53" fill="none"/>
<ellipse cx="414.5" cy="510.7" rx="2.20" ry="1.27" transform="rotate(60.0 414.5 510.7)" stroke="#000" stroke-width="0.53" fill="none"/>
<ellipse cx="262.9" cy="423.3" rx="2.20" ry="1.27" transform="rotate(60.0 262.9 423.3)" stroke="#000" stroke-width="0.53" fill="none"/>
<ellipse cx="294.6" cy="359.3" rx="1.71" ry="0.99" transform="rotate(60.0 294.6 359.3)" stroke="#000" stroke-width="0.53" fill="none"/>
<ellipse cx="390.6" cy="414.7" rx="1.71" ry="0.99" transform="rotate(60.0 390.6 414.7)" stroke="#000" stroke-width="0.53" fill="none"/>
<ellipse cx="268.6" cy="346.6" rx="4.20" ry="1.90" transform="rotate(28.0 268.6 346.6)" stroke="#000" stroke-width="0.53" fill="none"/>
<ellipse cx="268.6" cy="346.6" rx="1.80" ry="1.00" transform="rotate(28.0 268.6 346.6)" stroke="#000" stroke-width="0.46" fill="none"/>
<path d="M280.7 346.0L280.7 356.7" stroke="#222" stroke-width="1.98"/>
<path d="M280.7 347.2L280.7 356.1" stroke="#eee" stroke-width="0.99"/>
<path d="M283.8 347.8L283.8 358.5" stroke="#222" stroke-width="1.98"/>
<path d="M283.8 349.0L283.8 357.9" stroke="#eee" stroke-width="0.99"/>
<path d="M286.8 349.6L286.8 360.2" stroke="#222" stroke-width="1.98"/>
<path d="M286.8 350.8L286.8 359.6" stroke="#eee" stroke-width="0.99"/>
<path d="M289.9 351.3L289.9 362.0" stroke="#222" stroke-width="1.98"/>
<path d="M289.9 352.5L289.9 361.4" stroke="#eee" stroke-width="0.99"/>
<path d="M395.8 413.2L395.8 423.9" stroke="#222" stroke-width="1.98"/>
<path d="M395.8 414.4L395.8 423.3" stroke="#eee" stroke-width="0.99"/>
<path d="M399.2 415.2L399.2 425.9" stroke="#222" stroke-width="1.98"/>
<path d="M399.2 416.4L399.2 425.3" stroke="#eee" stroke-width="0.99"/>
<path d="M402.7 417.2L402.7 427.9" stroke="#222" stroke-width="1.98"/>
<path d="M402.7 418.4L402.7 427.3" stroke="#eee" stroke-width="0.99"/>
<path d="M406.2 419.2L406.2 429.9" stroke="#222" stroke-width="1.98"/>
<path d="M406.2 420.4L406.2 429.3" stroke="#eee" stroke-width="0.99"/>
<path d="M277.7 344.4L277.7 354.7" stroke="#000" stroke-width="0.53"/>
<path d="M299.6 358.6L301.2 359.5L301.2 367.9L299.6 367.0Z" stroke="#aaa" stroke-width="0.01" fill="#aaa"/>
<path d="M298.3 357.9L298.3 366.2" stroke="#333" stroke-width="0.53"/>
<path d="M302.5 360.3L304.0 361.2L304.0 369.5L302.5 368.6Z" stroke="#e4e4e4" stroke-width="0.01" fill="#e4e4e4"/>
<path d="M301.2 359.5L301.2 367.9" stroke="#333" stroke-width="0.53"/>
<path d="M305.3 361.9L306.9 362.8L306.9 371.2L305.3 370.3Z" stroke="#aaa" stroke-width="0.01" fill="#aaa"/>
<path d="M304.0 361.2L304.0 369.5" stroke="#333" stroke-width="0.53"/>
<path d="M308.2 363.5L309.7 364.4L309.7 372.8L308.2 371.9Z" stroke="#e4e4e4" stroke-width="0.01" fill="#e4e4e4"/>
<path d="M306.9 362.8L306.9 371.2" stroke="#333" stroke-width="0.53"/>
<path d="M311.0 365.2L312.6 366.1L312.6 374.5L311.0 373.6Z" stroke="#aaa" stroke-width="0.01" fill="#aaa"/>
<path d="M309.7 364.4L309.7 372.8" stroke="#333" stroke-width="0.53"/>
<path d="M313.9 366.8L315.5 367.7L315.5 376.1L313.9 375.2Z" stroke="#e4e4e4" stroke-width="0.01" fill="#e4e4e4"/>
<path d="M312.6 366.1L312.6 374.5" stroke="#333" stroke-width="0.53"/>
<path d="M316.7 368.5L318.3 369.4L318.3 377.8L316.7 376.9Z" stroke="#aaa" stroke-width="0.01" fill="#aaa"/>
<path d="M315.5 367.7L315.5 376.1" stroke="#333" stroke-width="0.53"/>
<path d="M319.6 370.1L321.2 371.0L321.2 379.4L319.6 378.5Z" stroke="#e4e4e4" stroke-width="0.01" fill="#e4e4e4"/>
<path d="M318.3 369.4L318.3 377.8" stroke="#333" stroke-width="0.53"/>
<path d="M322.5 371.8L324.0 372.7L324.0 381.0L322.5 380.1Z" stroke="#aaa" stroke-width="0.01" fill="#aaa"/>
<path d="M321.2 371.0L321.2 379.4" stroke="#333" stroke-width="0.53"/>
<path d="M325.3 373.4L326.9 374.3L326.9 382.7L325.3 381.8Z" stroke="#e4e4e4" stroke-width="0.01" fill="#e4e4e4"/>
<path d="M324.0 372.7L324.0 381.0" stroke="#333" stroke-width="0.53"/>
<path d="M328.2 375.1L329.7 376.0L329.7 384.3L328.2 383.4Z" stroke="#aaa" stroke-width="0.01" fill="#aaa"/>
<path d="M326.9 374.3L326.9 382.7" stroke="#333" stroke-width="0.53"/>
<path d="M331.0 376.7L332.6 377.6L332.6 386.0L331.0 385.1Z" stroke="#e4e4e4" stroke-width="0.01" fill="#e4e4e4"/>
<path d="M329.7 376.0L329.7 384.3" stroke="#333" stroke-width="0.53"/>
<path d="M333.9 378.4L335.4 379.3L335.4 387.6L333.9 386.7Z" stroke="#aaa" stroke-width="0.01" fill="#aaa"/>
<path d="M332.6 377.6L332.6 386.0" stroke="#333" stroke-width="0.53"/>
<path d="M298.3 357.9L335.4 379.3L335.4 387.6L298.3 366.2Z" stroke="#000" stroke-width="0.59" fill="none"/>
<path d="M351.5 388.6L353.1 389.5L353.1 397.9L351.5 397.0Z" stroke="#aaa" stroke-width="0.01" fill="#aaa"/>
<path d="M350.2 387.8L350.2 396.2" stroke="#333" stroke-width="0.53"/>
<path d="M354.4 390.2L355.9 391.1L355.9 399.5L354.4 398.6Z" stroke="#e4e4e4" stroke-width="0.01" fill="#e4e4e4"/>
<path d="M353.1 389.5L353.1 397.9" stroke="#333" stroke-width="0.53"/>
<path d="M357.2 391.9L358.8 392.8L358.8 401.2L357.2 400.3Z" stroke="#aaa" stroke-width="0.01" fill="#aaa"/>
<path d="M355.9 391.1L355.9 399.5" stroke="#333" stroke-width="0.53"/>
<path d="M360.1 393.5L361.6 394.4L361.6 402.8L360.1 401.9Z" stroke="#e4e4e4" stroke-width="0.01" fill="#e4e4e4"/>
<path d="M358.8 392.8L358.8 401.2" stroke="#333" stroke-width="0.53"/>
<path d="M362.9 395.2L364.5 396.1L364.5 404.4L362.9 403.5Z" stroke="#aaa" stroke-width="0.01" fill="#aaa"/>
<path d="M361.6 394.4L361.6 402.8" stroke="#333" stroke-width="0.53"/>
<path d="M365.8 396.8L367.4 397.7L367.4 406.1L365.8 405.2Z" stroke="#e4e4e4" stroke-width="0.01" fill="#e4e4e4"/>
<path d="M364.5 396.1L364.5 404.4" stroke="#333" stroke-width="0.53"/>
<path d="M368.7 398.5L370.2 399.4L370.2 407.7L368.7 406.8Z" stroke="#aaa" stroke-width="0.01" fill="#aaa"/>
<path d="M367.4 397.7L367.4 406.1" stroke="#333" stroke-width="0.53"/>
<path d="M371.5 400.1L373.1 401.0L373.1 409.4L371.5 408.5Z" stroke="#e4e4e4" stroke-width="0.01" fill="#e4e4e4"/>
<path d="M370.2 399.4L370.2 407.7" stroke="#333" stroke-width="0.53"/>
<path d="M374.4 401.8L375.9 402.7L375.9 411.0L374.4 410.1Z" stroke="#aaa" stroke-width="0.01" fill="#aaa"/>
<path d="M373.1 401.0L373.1 409.4" stroke="#333" stroke-width="0.53"/>
<path d="M377.2 403.4L378.8 404.3L378.8 412.7L377.2 411.8Z" stroke="#e4e4e4" stroke-width="0.01" fill="#e4e4e4"/>
<path d="M375.9 402.7L375.9 411.0" stroke="#333" stroke-width="0.53"/>
<path d="M380.1 405.1L381.6 406.0L381.6 414.3L380.1 413.4Z" stroke="#aaa" stroke-width="0.01" fill="#aaa"/>
<path d="M378.8 404.3L378.8 412.7" stroke="#333" stroke-width="0.53"/>
<path d="M382.9 406.7L384.5 407.6L384.5 416.0L382.9 415.1Z" stroke="#e4e4e4" stroke-width="0.01" fill="#e4e4e4"/>
<path d="M381.6 406.0L381.6 414.3" stroke="#333" stroke-width="0.53"/>
<path d="M385.8 408.4L387.3 409.3L387.3 417.6L385.8 416.7Z" stroke="#aaa" stroke-width="0.01" fill="#aaa"/>
<path d="M384.5 407.6L384.5 416.0" stroke="#333" stroke-width="0.53"/>
<path d="M350.2 387.8L387.3 409.3L387.3 417.6L350.2 396.2Z" stroke="#000" stroke-width="0.59" fill="none"/>
<path d="M220.1 320.5L258.7 342.9L258.7 386.6L254.2 386.8L254.2 415.4L256.7 417.0L222.0 399.1L222.0 387.2L218.2 384.7L218.2 382.5L222.0 383.4L222.0 367.7L218.2 365.2L218.2 321.3Z" stroke="#000" stroke-width="0.59" fill="none"/>
<ellipse cx="225.8" cy="321.3" rx="2.08" ry="1.20" transform="rotate(60.0 225.8 321.3)" stroke="#000" stroke-width="0.53" fill="#fff"/>
<ellipse cx="255.2" cy="338.9" rx="2.08" ry="1.20" transform="rotate(60.0 255.2 338.9)" stroke="#000" stroke-width="0.53" fill="#fff"/>
<ellipse cx="219.5" cy="383.0" rx="2.08" ry="1.20" transform="rotate(60.0 219.5 383.0)" stroke="#000" stroke-width="0.53" fill="#fff"/>
<ellipse cx="255.2" cy="417.9" rx="2.08" ry="1.20" transform="rotate(60.0 255.2 417.9)" stroke="#000" stroke-width="0.53" fill="#fff"/>
<path d="M196.7 339.9L225.8 321.3" stroke="#000" stroke-width="0.59"/>
<path d="M186.9 342.4L189.7 347.2L191.4 344.3L195.2 342.1L194.1 340.1L190.3 342.3Z" stroke="#000" stroke-width="0.33" fill="#111"/>
<path d="M192.1 341.1L193.4 343.3" stroke="#ccc" stroke-width="0.40"/>
<path d="M227.4 355.9L255.2 338.9" stroke="#000" stroke-width="0.59"/>
<ellipse cx="220.2" cy="360.1" rx="0.90" ry="2.20" transform="rotate(-30.0 220.2 360.1)" stroke="#000" stroke-width="0.59" fill="#fff"/>
<path d="M221.0 359.6L225.5 357.0" stroke="#222" stroke-width="1.65"/>
<path d="M221.5 358.0L222.7 360.0" stroke="#ccc" stroke-width="0.36"/>
<path d="M222.7 357.3L223.9 359.3" stroke="#ccc" stroke-width="0.36"/>
<path d="M223.9 356.6L225.1 358.6" stroke="#ccc" stroke-width="0.36"/>
<path d="M191.7 400.8L219.5 383.0" stroke="#000" stroke-width="0.59"/>
<ellipse cx="184.5" cy="404.9" rx="0.90" ry="2.20" transform="rotate(-30.0 184.5 404.9)" stroke="#000" stroke-width="0.59" fill="#fff"/>
<path d="M185.3 404.4L189.8 401.8" stroke="#222" stroke-width="1.65"/>
<path d="M185.8 402.8L187.0 404.8" stroke="#ccc" stroke-width="0.36"/>
<path d="M187.0 402.1L188.2 404.1" stroke="#ccc" stroke-width="0.36"/>
<path d="M188.2 401.4L189.4 403.4" stroke="#ccc" stroke-width="0.36"/>
<path d="M227.4 433.4L255.2 417.9" stroke="#000" stroke-width="0.59"/>
<ellipse cx="220.2" cy="437.5" rx="0.90" ry="2.20" transform="rotate(-30.0 220.2 437.5)" stroke="#000" stroke-width="0.59" fill="#fff"/>
<path d="M221.0 437.0L225.5 434.4" stroke="#222" stroke-width="1.65"/>
<path d="M221.5 435.4L222.7 437.4" stroke="#ccc" stroke-width="0.36"/>
<path d="M222.7 434.7L223.9 436.7" stroke="#ccc" stroke-width="0.36"/>
<path d="M223.9 434.0L225.1 436.0" stroke="#ccc" stroke-width="0.36"/>
<path d="M235.4 440.1L262.9 423.3" stroke="#000" stroke-width="0.59"/>
<ellipse cx="228.2" cy="444.3" rx="0.90" ry="2.20" transform="rotate(-30.0 228.2 444.3)" stroke="#000" stroke-width="0.59" fill="#fff"/>
<path d="M229.0 443.8L233.5 441.2" stroke="#222" stroke-width="1.65"/>
<path d="M229.5 442.2L230.7 444.2" stroke="#ccc" stroke-width="0.36"/>
<path d="M230.7 441.5L231.9 443.5" stroke="#ccc" stroke-width="0.36"/>
<path d="M231.9 440.8L233.1 442.8" stroke="#ccc" stroke-width="0.36"/>
<path d="M385.3 527.5L414.5 510.7" stroke="#000" stroke-width="0.59"/>
<ellipse cx="378.1" cy="531.7" rx="0.90" ry="2.20" transform="rotate(-30.0 378.1 531.7)" stroke="#000" stroke-width="0.59" fill="#fff"/>
<path d="M378.9 531.2L383.4 528.6" stroke="#222" stroke-width="1.65"/>
<path d="M379.4 529.6L380.6 531.6" stroke="#ccc" stroke-width="0.36"/>
<path d="M380.6 528.9L381.8 530.9" stroke="#ccc" stroke-width="0.36"/>
<path d="M381.8 528.2L383.0 530.2" stroke="#ccc" stroke-width="0.36"/>
<path d="M351.4 372.4L430.8 326.2" stroke="#000" stroke-width="0.59"/>
<path d="M435.5 498.0L582.0 413.2" stroke="#000" stroke-width="0.59"/>
</g>
<g id="bottom" transform="translate(0 661.2)">
<path d="M308.5 176.2L550.1 36.7" stroke="#000" stroke-width="0.59"/>
<path d="M308.5 176.2L311.0 177.6L311.0 212.8L308.5 211.4L308.5 176.2" stroke="#000" stroke-width="0.59" fill="none"/>
<path d="M311.0 177.6L552.6 38.1" stroke="#000" stroke-width="0.56"/>
<path d="M311.0 180.4L552.6 40.9" stroke="#000" stroke-width="0.56"/>
<path d="M311.0 185.6L552.6 46.1" stroke="#000" stroke-width="1.06"/>
<path d="M311.0 189.6L552.6 50.1" stroke="#000" stroke-width="0.56"/>
<path d="M311.0 200.0L552.6 60.5" stroke="#000" stroke-width="1.06"/>
<path d="M311.0 203.2L552.6 63.7" stroke="#000" stroke-width="0.56"/>
<path d="M311.0 207.2L552.6 67.7" stroke="#000" stroke-width="1.06"/>
<path d="M311.0 212.8L552.6 73.3" stroke="#000" stroke-width="0.56"/>
<path d="M550.1 36.7L552.6 38.1" stroke="#000" stroke-width="0.59"/>
<path d="M552.6 38.1L552.6 73.3" stroke="#aaa" stroke-width="0.59"/>
<path d="M690.4 405.2L944.2 258.7" stroke="#000" stroke-width="0.59"/>
<path d="M690.4 405.2L692.5 406.5L692.5 441.0L690.4 439.7L690.4 405.2" stroke="#000" stroke-width="0.59" fill="none"/>
<path d="M692.5 406.5L946.3 260.0" stroke="#000" stroke-width="0.56"/>
<path d="M692.5 412.0L946.3 265.5" stroke="#000" stroke-width="0.56"/>
<path d="M692.5 416.5L946.3 270.0" stroke="#000" stroke-width="1.06"/>
<path d="M692.5 420.5L946.3 274.0" stroke="#000" stroke-width="0.56"/>
<path d="M692.5 425.5L946.3 279.0" stroke="#000" stroke-width="1.06"/>
<path d="M692.5 430.5L946.3 284.0" stroke="#000" stroke-width="0.56"/>
<path d="M692.5 435.0L946.3 288.5" stroke="#000" stroke-width="0.56"/>
<path d="M692.5 441.0L946.3 294.5" stroke="#000" stroke-width="0.56"/>
<path d="M944.2 258.7L946.3 260.0" stroke="#000" stroke-width="0.59"/>
<path d="M946.3 260.0L946.3 294.5" stroke="#aaa" stroke-width="0.59"/>
<path d="M384.6 202.1L384.6 301.4" stroke="#000" stroke-width="0.59"/>
<path d="M394.3 211.0L394.3 296.0" stroke="#000" stroke-width="0.59"/>
<ellipse cx="387.2" cy="208.7" rx="1.02" ry="1.32" transform="rotate(0.0 387.2 208.7)" stroke="#000" stroke-width="0.53" fill="none"/>
<ellipse cx="387.2" cy="249.5" rx="1.02" ry="1.32" transform="rotate(0.0 387.2 249.5)" stroke="#000" stroke-width="0.53" fill="none"/>
<ellipse cx="387.2" cy="290.3" rx="1.02" ry="1.32" transform="rotate(0.0 387.2 290.3)" stroke="#000" stroke-width="0.53" fill="none"/>
<path d="M384.6 202.1L626.7 62.3" stroke="#000" stroke-width="0.59"/>
<path d="M384.6 202.1L388.6 204.4" stroke="#000" stroke-width="0.59"/>
<path d="M388.6 204.4L629.5 65.3" stroke="#222" stroke-width="0.73"/>
<path d="M389.5 205.3L629.5 66.7" stroke="#555" stroke-width="0.53"/>
<path d="M384.6 301.4L589.5 419.6" stroke="#000" stroke-width="0.59"/>
<path d="M387.2 297.3L427.0 320.3" stroke="#000" stroke-width="0.59"/>
<path d="M427.0 320.2L427.8 322.6" stroke="#000" stroke-width="0.53"/>
<path d="M428.5 321.1L589.5 414.1" stroke="#000" stroke-width="0.59"/>
<path d="M384.6 301.4L394.3 295.8" stroke="#000" stroke-width="0.59"/>
<ellipse cx="431.8" cy="325.8" rx="1.44" ry="1.87" transform="rotate(0.0 431.8 325.8)" stroke="#000" stroke-width="0.53" fill="none"/>
<ellipse cx="469.8" cy="348.0" rx="1.44" ry="1.87" transform="rotate(0.0 469.8 348.0)" stroke="#000" stroke-width="0.53" fill="none"/>
<ellipse cx="508.0" cy="369.8" rx="1.44" ry="1.87" transform="rotate(0.0 508.0 369.8)" stroke="#000" stroke-width="0.53" fill="none"/>
<ellipse cx="545.8" cy="391.6" rx="1.44" ry="1.87" transform="rotate(0.0 545.8 391.6)" stroke="#000" stroke-width="0.53" fill="none"/>
<ellipse cx="582.8" cy="413.0" rx="1.44" ry="1.87" transform="rotate(0.0 582.8 413.0)" stroke="#000" stroke-width="0.53" fill="none"/>
<path d="M589.5 319.6L589.5 419.6" stroke="#000" stroke-width="0.59"/>
<path d="M589.5 319.6L831.6 179.8" stroke="#000" stroke-width="0.59"/>
<path d="M589.5 319.6L584.5 316.7" stroke="#000" stroke-width="0.59"/>
<path d="M584.5 316.7L826.0 177.3" stroke="#000" stroke-width="0.59"/>
<path d="M589.5 419.6L629.5 396.5" stroke="#000" stroke-width="0.59"/>
<path d="M640.0 390.4L832.5 279.3" stroke="#000" stroke-width="0.59"/>
<ellipse cx="592.1" cy="327.5" rx="1.02" ry="1.32" transform="rotate(0.0 592.1 327.5)" stroke="#000" stroke-width="0.53" fill="none"/>
<path d="M592.1 327.5L631.3 350.1" stroke="#000" stroke-width="0.59"/>
<ellipse cx="639.1" cy="354.6" rx="1.60" ry="3.00" transform="rotate(-150.0 639.1 354.6)" stroke="#000" stroke-width="0.59" fill="#fff"/>
<path d="M637.9 356.7L640.3 352.6" stroke="#222" stroke-width="0.59"/>
<path d="M637.8 353.6L640.4 355.6" stroke="#333" stroke-width="0.53"/>
<path d="M638.1 354.1L633.9 351.6" stroke="#0a0a0a" stroke-width="2.97"/>
<path d="M635.8 354.7L637.5 351.8" stroke="#888" stroke-width="0.26"/>
<path d="M634.4 353.9L636.1 350.9" stroke="#888" stroke-width="0.26"/>
<ellipse cx="633.6" cy="351.4" rx="0.80" ry="1.70" transform="rotate(-150.0 633.6 351.4)" stroke="#000" stroke-width="0.53" fill="#fff"/>
<ellipse cx="592.1" cy="367.6" rx="1.02" ry="1.32" transform="rotate(0.0 592.1 367.6)" stroke="#000" stroke-width="0.53" fill="none"/>
<path d="M592.1 367.6L631.3 390.2" stroke="#000" stroke-width="0.59"/>
<ellipse cx="639.1" cy="394.7" rx="1.60" ry="3.00" transform="rotate(-150.0 639.1 394.7)" stroke="#000" stroke-width="0.59" fill="#fff"/>
<path d="M637.9 396.8L640.3 392.7" stroke="#222" stroke-width="0.59"/>
<path d="M637.8 393.7L640.4 395.7" stroke="#333" stroke-width="0.53"/>
<path d="M638.1 394.2L633.9 391.7" stroke="#0a0a0a" stroke-width="2.97"/>
<path d="M635.8 394.8L637.5 391.9" stroke="#888" stroke-width="0.26"/>
<path d="M634.4 394.0L636.1 391.0" stroke="#888" stroke-width="0.26"/>
<ellipse cx="633.6" cy="391.5" rx="0.80" ry="1.70" transform="rotate(-150.0 633.6 391.5)" stroke="#000" stroke-width="0.53" fill="#fff"/>
<ellipse cx="592.1" cy="408.8" rx="1.02" ry="1.32" transform="rotate(0.0 592.1 408.8)" stroke="#000" stroke-width="0.53" fill="none"/>
<path d="M592.1 408.8L631.3 431.4" stroke="#000" stroke-width="0.59"/>
<ellipse cx="639.1" cy="435.9" rx="1.60" ry="3.00" transform="rotate(-150.0 639.1 435.9)" stroke="#000" stroke-width="0.59" fill="#fff"/>
<path d="M637.9 438.0L640.3 433.9" stroke="#222" stroke-width="0.59"/>
<path d="M637.8 434.9L640.4 436.9" stroke="#333" stroke-width="0.53"/>
<path d="M638.1 435.4L633.9 432.9" stroke="#0a0a0a" stroke-width="2.97"/>
<path d="M635.8 436.0L637.5 433.1" stroke="#888" stroke-width="0.26"/>
<path d="M634.4 435.2L636.1 432.2" stroke="#888" stroke-width="0.26"/>
<ellipse cx="633.6" cy="432.7" rx="0.80" ry="1.70" transform="rotate(-150.0 633.6 432.7)" stroke="#000" stroke-width="0.53" fill="#fff"/>
<ellipse cx="819.0" cy="221.3" rx="1.44" ry="1.87" transform="rotate(0.0 819.0 221.3)" stroke="#000" stroke-width="0.53" fill="none"/>
<path d="M819.0 221.3L914.0 276.1" stroke="#000" stroke-width="0.59"/>
<path d="M919.3 279.5L960.1 303.1" stroke="#000" stroke-width="0.59"/>
<ellipse cx="919.3" cy="279.5" rx="1.44" ry="1.87" transform="rotate(0.0 919.3 279.5)" stroke="#000" stroke-width="0.99" fill="#000"/>
<ellipse cx="967.9" cy="307.6" rx="1.60" ry="3.00" transform="rotate(-150.0 967.9 307.6)" stroke="#000" stroke-width="0.59" fill="#fff"/>
<path d="M966.7 309.7L969.1 305.5" stroke="#222" stroke-width="0.59"/>
<path d="M966.6 306.6L969.2 308.6" stroke="#333" stroke-width="0.53"/>
<path d="M966.9 307.1L962.7 304.6" stroke="#0a0a0a" stroke-width="2.97"/>
<path d="M964.6 307.7L966.3 304.7" stroke="#888" stroke-width="0.26"/>
<path d="M963.2 306.8L964.9 303.9" stroke="#888" stroke-width="0.26"/>
<ellipse cx="962.4" cy="304.4" rx="0.80" ry="1.70" transform="rotate(-150.0 962.4 304.4)" stroke="#000" stroke-width="0.53" fill="#fff"/>
<ellipse cx="810.5" cy="239.0" rx="1.44" ry="1.87" transform="rotate(0.0 810.5 239.0)" stroke="#000" stroke-width="0.53" fill="none"/>
<path d="M810.5 239.0L894.4 287.4" stroke="#000" stroke-width="0.59"/>
<path d="M909.9 298.0L951.5 320.4" stroke="#000" stroke-width="0.59"/>
<ellipse cx="909.9" cy="298.0" rx="1.44" ry="1.87" transform="rotate(0.0 909.9 298.0)" stroke="#000" stroke-width="0.99" fill="none"/>
<ellipse cx="959.3" cy="324.9" rx="1.60" ry="3.00" transform="rotate(-150.0 959.3 324.9)" stroke="#000" stroke-width="0.59" fill="#fff"/>
<path d="M958.1 327.0L960.5 322.8" stroke="#222" stroke-width="0.59"/>
<path d="M958.0 323.9L960.6 325.9" stroke="#333" stroke-width="0.53"/>
<path d="M958.3 324.3L954.1 321.9" stroke="#0a0a0a" stroke-width="2.97"/>
<path d="M956.0 325.0L957.7 322.0" stroke="#888" stroke-width="0.26"/>
<path d="M954.6 324.1L956.3 321.2" stroke="#888" stroke-width="0.26"/>
<ellipse cx="953.8" cy="321.7" rx="0.80" ry="1.70" transform="rotate(-150.0 953.8 321.7)" stroke="#000" stroke-width="0.53" fill="#fff"/>
<ellipse cx="763.3" cy="266.9" rx="1.44" ry="1.87" transform="rotate(0.0 763.3 266.9)" stroke="#000" stroke-width="0.53" fill="none"/>
<path d="M763.3 266.9L846.6 315.0" stroke="#000" stroke-width="0.59"/>
<path d="M863.2 325.0L904.7 347.6" stroke="#000" stroke-width="0.59"/>
<ellipse cx="863.2" cy="325.0" rx="1.44" ry="1.87" transform="rotate(0.0 863.2 325.0)" stroke="#000" stroke-width="0.99" fill="none"/>
<ellipse cx="912.5" cy="352.1" rx="1.60" ry="3.00" transform="rotate(-150.0 912.5 352.1)" stroke="#000" stroke-width="0.59" fill="#fff"/>
<path d="M911.3 354.2L913.7 350.0" stroke="#222" stroke-width="0.59"/>
<path d="M911.2 351.1L913.8 353.1" stroke="#333" stroke-width="0.53"/>
<path d="M911.5 351.6L907.3 349.1" stroke="#0a0a0a" stroke-width="2.97"/>
<path d="M909.2 352.2L910.9 349.2" stroke="#888" stroke-width="0.26"/>
<path d="M907.8 351.3L909.5 348.4" stroke="#888" stroke-width="0.26"/>
<ellipse cx="907.0" cy="348.9" rx="0.80" ry="1.70" transform="rotate(-150.0 907.0 348.9)" stroke="#000" stroke-width="0.53" fill="#fff"/>
<ellipse cx="680.6" cy="314.5" rx="1.44" ry="1.87" transform="rotate(0.0 680.6 314.5)" stroke="#000" stroke-width="0.53" fill="none"/>
<path d="M680.6 314.5L764.0 362.7" stroke="#000" stroke-width="0.59"/>
<path d="M780.6 373.4L822.2 395.4" stroke="#000" stroke-width="0.59"/>
<ellipse cx="780.6" cy="373.4" rx="1.44" ry="1.87" transform="rotate(0.0 780.6 373.4)" stroke="#000" stroke-width="0.99" fill="none"/>
<ellipse cx="830.0" cy="399.9" rx="1.60" ry="3.00" transform="rotate(-150.0 830.0 399.9)" stroke="#000" stroke-width="0.59" fill="#fff"/>
<path d="M828.8 402.0L831.2 397.8" stroke="#222" stroke-width="0.59"/>
<path d="M828.7 398.9L831.3 400.9" stroke="#333" stroke-width="0.53"/>
<path d="M829.0 399.3L824.8 396.9" stroke="#0a0a0a" stroke-width="2.97"/>
<path d="M826.7 400.0L828.4 397.0" stroke="#888" stroke-width="0.26"/>
<path d="M825.3 399.1L827.0 396.2" stroke="#888" stroke-width="0.26"/>
<ellipse cx="824.5" cy="396.7" rx="0.80" ry="1.70" transform="rotate(-150.0 824.5 396.7)" stroke="#000" stroke-width="0.53" fill="#fff"/>
<ellipse cx="615.6" cy="337.8" rx="1.44" ry="1.87" transform="rotate(0.0 615.6 337.8)" stroke="#000" stroke-width="0.53" fill="none"/>
<path d="M615.6 337.8L711.4 393.1" stroke="#000" stroke-width="0.59"/>
<path d="M715.2 397.6L757.5 419.8" stroke="#000" stroke-width="0.59"/>
<ellipse cx="715.2" cy="397.6" rx="1.44" ry="1.87" transform="rotate(0.0 715.2 397.6)" stroke="#000" stroke-width="0.99" fill="none"/>
<ellipse cx="765.3" cy="424.3" rx="1.60" ry="3.00" transform="rotate(-150.0 765.3 424.3)" stroke="#000" stroke-width="0.59" fill="#fff"/>
<path d="M764.1 426.4L766.5 422.2" stroke="#222" stroke-width="0.59"/>
<path d="M764.0 423.3L766.6 425.3" stroke="#333" stroke-width="0.53"/>
<path d="M764.3 423.8L760.1 421.3" stroke="#0a0a0a" stroke-width="2.97"/>
<path d="M762.0 424.4L763.7 421.4" stroke="#888" stroke-width="0.26"/>
<path d="M760.6 423.5L762.3 420.6" stroke="#888" stroke-width="0.26"/>
<ellipse cx="759.8" cy="421.1" rx="0.80" ry="1.70" transform="rotate(-150.0 759.8 421.1)" stroke="#000" stroke-width="0.53" fill="#fff"/>
<ellipse cx="633.3" cy="341.5" rx="1.44" ry="1.87" transform="rotate(0.0 633.3 341.5)" stroke="#000" stroke-width="0.53" fill="none"/>
<path d="M633.3 341.5L717.0 389.8" stroke="#000" stroke-width="0.59"/>
<path d="M733.0 400.5L774.3 422.7" stroke="#000" stroke-width="0.59"/>
<ellipse cx="733.0" cy="400.5" rx="1.44" ry="1.87" transform="rotate(0.0 733.0 400.5)" stroke="#000" stroke-width="0.99" fill="none"/>
<ellipse cx="782.1" cy="427.2" rx="1.60" ry="3.00" transform="rotate(-150.0 782.1 427.2)" stroke="#000" stroke-width="0.59" fill="#fff"/>
<path d="M780.9 429.3L783.3 425.1" stroke="#222" stroke-width="0.59"/>
<path d="M780.8 426.2L783.4 428.2" stroke="#333" stroke-width="0.53"/>
<path d="M781.1 426.6L776.9 424.2" stroke="#0a0a0a" stroke-width="2.97"/>
<path d="M778.8 427.3L780.5 424.3" stroke="#888" stroke-width="0.26"/>
<path d="M777.4 426.4L779.1 423.5" stroke="#888" stroke-width="0.26"/>
<ellipse cx="776.6" cy="424.0" rx="0.80" ry="1.70" transform="rotate(-150.0 776.6 424.0)" stroke="#000" stroke-width="0.53" fill="#fff"/>
<path d="M493.9 39.3L523.3 57.1" stroke="#000" stroke-width="0.59"/>
<ellipse cx="523.3" cy="57.1" rx="1.70" ry="2.20" transform="rotate(0.0 523.3 57.1)" stroke="#000" stroke-width="0.53" fill="none"/>
<ellipse cx="486.1" cy="34.8" rx="1.60" ry="3.00" transform="rotate(30.0 486.1 34.8)" stroke="#000" stroke-width="0.59" fill="#fff"/>
<path d="M487.1 35.3L491.3 37.8" stroke="#0a0a0a" stroke-width="2.97"/>
<path d="M489.4 34.7L487.7 37.7" stroke="#888" stroke-width="0.26"/>
<path d="M490.8 35.6L489.1 38.5" stroke="#888" stroke-width="0.26"/>
<ellipse cx="491.6" cy="38.0" rx="0.80" ry="1.70" transform="rotate(30.0 491.6 38.0)" stroke="#000" stroke-width="0.53" fill="#fff"/>
<path d="M492.2 53.9L506.3 62.0" stroke="#000" stroke-width="0.59"/>
<ellipse cx="523.3" cy="71.9" rx="1.70" ry="2.20" transform="rotate(0.0 523.3 71.9)" stroke="#000" stroke-width="0.53" fill="none"/>
<ellipse cx="484.4" cy="49.4" rx="1.60" ry="3.00" transform="rotate(30.0 484.4 49.4)" stroke="#000" stroke-width="0.59" fill="#fff"/>
<path d="M485.4 49.9L489.6 52.4" stroke="#0a0a0a" stroke-width="2.97"/>
<path d="M487.7 49.3L486.0 52.3" stroke="#888" stroke-width="0.26"/>
<path d="M489.1 50.2L487.4 53.1" stroke="#888" stroke-width="0.26"/>
<ellipse cx="489.9" cy="52.6" rx="0.80" ry="1.70" transform="rotate(30.0 489.9 52.6)" stroke="#000" stroke-width="0.53" fill="#fff"/>
<path d="M443.6 81.1L458.4 89.7" stroke="#000" stroke-width="0.59"/>
<ellipse cx="475.4" cy="100.3" rx="1.70" ry="2.20" transform="rotate(0.0 475.4 100.3)" stroke="#000" stroke-width="0.53" fill="none"/>
<ellipse cx="435.8" cy="76.6" rx="1.60" ry="3.00" transform="rotate(30.0 435.8 76.6)" stroke="#000" stroke-width="0.59" fill="#fff"/>
<path d="M436.8 77.1L441.0 79.6" stroke="#0a0a0a" stroke-width="2.97"/>
<path d="M439.1 76.5L437.4 79.5" stroke="#888" stroke-width="0.26"/>
<path d="M440.5 77.4L438.8 80.3" stroke="#888" stroke-width="0.26"/>
<ellipse cx="441.3" cy="79.8" rx="0.80" ry="1.70" transform="rotate(30.0 441.3 79.8)" stroke="#000" stroke-width="0.53" fill="#fff"/>
<path d="M357.1 131.1L371.9 139.6" stroke="#000" stroke-width="0.59"/>
<ellipse cx="388.9" cy="150.4" rx="1.70" ry="2.20" transform="rotate(0.0 388.9 150.4)" stroke="#000" stroke-width="0.53" fill="none"/>
<ellipse cx="349.3" cy="126.6" rx="1.60" ry="3.00" transform="rotate(30.0 349.3 126.6)" stroke="#000" stroke-width="0.59" fill="#fff"/>
<path d="M350.3 127.1L354.5 129.6" stroke="#0a0a0a" stroke-width="2.97"/>
<path d="M352.6 126.5L350.9 129.5" stroke="#888" stroke-width="0.26"/>
<path d="M354.0 127.4L352.3 130.3" stroke="#888" stroke-width="0.26"/>
<ellipse cx="354.8" cy="129.8" rx="0.80" ry="1.70" transform="rotate(30.0 354.8 129.8)" stroke="#000" stroke-width="0.53" fill="#fff"/>
<path d="M296.2 153.4L325.0 170.4" stroke="#000" stroke-width="0.59"/>
<ellipse cx="325.0" cy="170.4" rx="1.70" ry="2.20" transform="rotate(0.0 325.0 170.4)" stroke="#000" stroke-width="0.53" fill="none"/>
<ellipse cx="288.4" cy="148.9" rx="1.60" ry="3.00" transform="rotate(30.0 288.4 148.9)" stroke="#000" stroke-width="0.59" fill="#fff"/>
<path d="M289.4 149.5L293.6 151.9" stroke="#0a0a0a" stroke-width="2.97"/>
<path d="M291.7 148.8L290.0 151.8" stroke="#888" stroke-width="0.26"/>
<path d="M293.1 149.7L291.4 152.6" stroke="#888" stroke-width="0.26"/>
<ellipse cx="293.9" cy="152.1" rx="0.80" ry="1.70" transform="rotate(30.0 293.9 152.1)" stroke="#000" stroke-width="0.53" fill="#fff"/>
<path d="M313.8 156.5L328.2 164.8" stroke="#000" stroke-width="0.59"/>
<ellipse cx="344.1" cy="176.6" rx="1.70" ry="2.20" transform="rotate(0.0 344.1 176.6)" stroke="#000" stroke-width="0.53" fill="none"/>
<ellipse cx="306.0" cy="152.0" rx="1.60" ry="3.00" transform="rotate(30.0 306.0 152.0)" stroke="#000" stroke-width="0.59" fill="#fff"/>
<path d="M307.0 152.6L311.2 155.0" stroke="#0a0a0a" stroke-width="2.97"/>
<path d="M309.3 151.9L307.6 154.9" stroke="#888" stroke-width="0.26"/>
<path d="M310.7 152.8L309.0 155.7" stroke="#888" stroke-width="0.26"/>
<ellipse cx="311.5" cy="155.2" rx="0.80" ry="1.70" transform="rotate(30.0 311.5 155.2)" stroke="#000" stroke-width="0.53" fill="#fff"/>
<path d="M523.3 57.1L583.4 91.8" stroke="#000" stroke-width="0.59"/>
<path d="M581.5 92.5L585.0 95.0" stroke="#000" stroke-width="0.53"/>
<path d="M523.3 71.9L566.7 97.0" stroke="#000" stroke-width="0.59"/>
<path d="M475.4 100.3L518.2 125.0" stroke="#000" stroke-width="0.59"/>
<path d="M388.9 150.4L431.5 175.0" stroke="#000" stroke-width="0.59"/>
<path d="M325.0 170.4L358.5 189.7" stroke="#000" stroke-width="0.59"/>
<path d="M344.1 176.6L386.2 200.9" stroke="#000" stroke-width="0.59"/>
<path d="M369.7 198.5L386.6 208.4" stroke="#000" stroke-width="0.59"/>
<ellipse cx="361.9" cy="194.0" rx="1.60" ry="3.00" transform="rotate(30.0 361.9 194.0)" stroke="#000" stroke-width="0.59" fill="#fff"/>
<path d="M362.9 194.6L367.1 197.0" stroke="#0a0a0a" stroke-width="2.97"/>
<path d="M365.2 193.9L363.5 196.9" stroke="#888" stroke-width="0.26"/>
<path d="M366.6 194.8L364.9 197.7" stroke="#888" stroke-width="0.26"/>
<ellipse cx="367.4" cy="197.2" rx="0.80" ry="1.70" transform="rotate(30.0 367.4 197.2)" stroke="#000" stroke-width="0.53" fill="#fff"/>
<path d="M369.7 240.0L386.6 249.2" stroke="#000" stroke-width="0.59"/>
<ellipse cx="361.9" cy="235.5" rx="1.60" ry="3.00" transform="rotate(30.0 361.9 235.5)" stroke="#000" stroke-width="0.59" fill="#fff"/>
<path d="M362.9 236.1L367.1 238.5" stroke="#0a0a0a" stroke-width="2.97"/>
<path d="M365.2 235.4L363.5 238.4" stroke="#888" stroke-width="0.26"/>
<path d="M366.6 236.3L364.9 239.2" stroke="#888" stroke-width="0.26"/>
<ellipse cx="367.4" cy="238.7" rx="0.80" ry="1.70" transform="rotate(30.0 367.4 238.7)" stroke="#000" stroke-width="0.53" fill="#fff"/>
<path d="M369.7 281.0L386.6 290.0" stroke="#000" stroke-width="0.59"/>
<ellipse cx="361.9" cy="276.5" rx="1.60" ry="3.00" transform="rotate(30.0 361.9 276.5)" stroke="#000" stroke-width="0.59" fill="#fff"/>
<path d="M362.9 277.1L367.1 279.5" stroke="#0a0a0a" stroke-width="2.97"/>
<path d="M365.2 276.4L363.5 279.4" stroke="#888" stroke-width="0.26"/>
<path d="M366.6 277.3L364.9 280.2" stroke="#888" stroke-width="0.26"/>
<ellipse cx="367.4" cy="279.7" rx="0.80" ry="1.70" transform="rotate(30.0 367.4 279.7)" stroke="#000" stroke-width="0.53" fill="#fff"/>
<path d="M567.9 117.8L637.2 77.8L686.5 106.3L617.3 146.3Z" stroke="#000" stroke-width="0.59" fill="none"/>
<path d="M567.9 117.8L567.9 145.8" stroke="#000" stroke-width="0.59"/>
<path d="M617.3 146.3L617.3 173.5" stroke="#000" stroke-width="0.59"/>
<path d="M567.9 133.4L617.3 160.5" stroke="#000" stroke-width="0.59"/>
<path d="M686.5 106.3L686.5 134.3" stroke="#000" stroke-width="0.59"/>
<path d="M617.3 173.5L686.5 134.3" stroke="#000" stroke-width="0.59"/>
<ellipse cx="605.8" cy="110.9" rx="10.78" ry="6.22" transform="rotate(0.0 605.8 110.9)" stroke="#000" stroke-width="0.66" fill="none"/>
<ellipse cx="641.2" cy="105.1" rx="10.78" ry="6.22" transform="rotate(0.0 641.2 105.1)" stroke="#000" stroke-width="0.66" fill="none"/>
<ellipse cx="630.8" cy="125.2" rx="10.78" ry="6.22" transform="rotate(0.0 630.8 125.2)" stroke="#000" stroke-width="0.66" fill="none"/>
<path d="M622.2 156.8L627.3 153.9" stroke="#000" stroke-width="3.08" stroke-linecap="round"/>
<path d="M622.2 156.8L627.3 153.9" stroke="#fff" stroke-width="2.12" stroke-linecap="round"/>
<path d="M641.1 145.6L646.3 142.7" stroke="#000" stroke-width="3.08" stroke-linecap="round"/>
<path d="M641.1 145.6L646.3 142.7" stroke="#fff" stroke-width="2.12" stroke-linecap="round"/>
<path d="M668.8 129.5L673.9 126.5" stroke="#000" stroke-width="3.08" stroke-linecap="round"/>
<path d="M668.8 129.5L673.9 126.5" stroke="#fff" stroke-width="2.12" stroke-linecap="round"/>
<path d="M622.8 169.9L625.1 168.5" stroke="#000" stroke-width="3.28" stroke-linecap="round"/>
<path d="M622.8 169.9L625.1 168.5" stroke="#fff" stroke-width="2.32" stroke-linecap="round"/>
<path d="M640.9 159.2L643.2 157.8" stroke="#000" stroke-width="3.28" stroke-linecap="round"/>
<path d="M640.9 159.2L643.2 157.8" stroke="#fff" stroke-width="2.32" stroke-linecap="round"/>
<path d="M660.7 147.8L663.0 146.4" stroke="#000" stroke-width="3.28" stroke-linecap="round"/>
<path d="M660.7 147.8L663.0 146.4" stroke="#fff" stroke-width="2.32" stroke-linecap="round"/>
<path d="M689.5 104.6L689.5 134.6" stroke="#000" stroke-width="0.59"/>
<path d="M685.7 107.9L689.5 104.9" stroke="#000" stroke-width="0.59"/>
<path d="M686.6 134.7L697.7 140.5L697.7 147.6" stroke="#000" stroke-width="0.59" fill="none"/>
<path d="M684.2 136.4L695.2 142.5L695.2 148.2" stroke="#000" stroke-width="0.59" fill="none"/>
<path d="M695.2 142.5L697.7 140.5" stroke="#000" stroke-width="0.59"/>
<path d="M541.6 152.3L608.6 191.0" stroke="#000" stroke-width="0.59"/>
<path d="M541.6 152.3L558.9 141.4" stroke="#000" stroke-width="0.59"/>
<path d="M558.9 141.4L627.7 180.0" stroke="#000" stroke-width="0.59"/>
<path d="M608.6 191.0L627.7 180.0" stroke="#000" stroke-width="0.59"/>
<path d="M541.6 152.3L541.6 202.5" stroke="#000" stroke-width="0.59"/>
<path d="M608.6 191.0L608.6 241.2" stroke="#000" stroke-width="0.59"/>
<path d="M541.6 202.5L608.6 241.2" stroke="#000" stroke-width="0.59"/>
<path d="M541.6 176.8L608.6 215.3" stroke="#000" stroke-width="0.59"/>
<path d="M541.6 178.7L608.6 216.9" stroke="#000" stroke-width="0.59"/>
<path d="M627.7 180.0L627.7 230.8" stroke="#000" stroke-width="0.59"/>
<path d="M608.6 215.3L627.7 204.3" stroke="#000" stroke-width="0.59"/>
<path d="M608.6 216.9L627.7 206.2" stroke="#000" stroke-width="0.59"/>
<path d="M608.6 241.2L654.0 217.9" stroke="#000" stroke-width="0.59"/>
<path d="M627.7 180.0L694.5 141.4" stroke="#000" stroke-width="0.59"/>
<path d="M634.5 190.0L640.4 186.6" stroke="#000" stroke-width="3.08" stroke-linecap="round"/>
<path d="M634.5 190.0L640.4 186.6" stroke="#fff" stroke-width="2.12" stroke-linecap="round"/>
<path d="M634.5 196.9L640.4 193.5" stroke="#000" stroke-width="3.08" stroke-linecap="round"/>
<path d="M634.5 196.9L640.4 193.5" stroke="#fff" stroke-width="2.12" stroke-linecap="round"/>
<path d="M634.5 214.5L640.4 211.1" stroke="#000" stroke-width="3.08" stroke-linecap="round"/>
<path d="M634.5 214.5L640.4 211.1" stroke="#fff" stroke-width="2.12" stroke-linecap="round"/>
<path d="M634.5 221.7L640.4 218.3" stroke="#000" stroke-width="3.08" stroke-linecap="round"/>
<path d="M634.5 221.7L640.4 218.3" stroke="#fff" stroke-width="2.12" stroke-linecap="round"/>
<path d="M609.1 241.5L615.8 246.0Q619.4 247.8 624.5 244.5L654.0 226.9" stroke="#000" stroke-width="0.59" fill="none"/>
<path d="M620.4 246.4Q624.5 249.6 629.5 247.8Q632.8 245.3 632.4 240.2" stroke="#000" stroke-width="0.53" fill="none"/>
<path d="M624.2 239.1L627.7 237.0" stroke="#000" stroke-width="2.88" stroke-linecap="round"/>
<path d="M624.2 239.1L627.7 237.0" stroke="#fff" stroke-width="1.92" stroke-linecap="round"/>
<path d="M637.8 231.1L641.4 229.1" stroke="#000" stroke-width="2.88" stroke-linecap="round"/>
<path d="M637.8 231.1L641.4 229.1" stroke="#fff" stroke-width="1.92" stroke-linecap="round"/>
<path d="M648.4 225.1L651.9 223.0" stroke="#000" stroke-width="2.88" stroke-linecap="round"/>
<path d="M648.4 225.1L651.9 223.0" stroke="#fff" stroke-width="1.92" stroke-linecap="round"/>
<circle cx="618.0" cy="243.1" r="0.70" stroke="#000" stroke-width="0.40" fill="#000"/>
<path d="M541.6 194.5L536.2 197.4Q534.8 198.4 536.5 199.5L549.2 206.9" stroke="#000" stroke-width="0.59" fill="none"/>
<path d="M551.2 208.1L551.2 220.0L600.7 248.1L600.7 236.3" stroke="#000" stroke-width="0.59" fill="none"/>
<path d="M600.7 248.1L610.1 242.7" stroke="#000" stroke-width="0.59"/>
<path d="M506.2 231.7L548.9 207.0" stroke="#000" stroke-width="0.59"/>
<path d="M646.3 56.8L839.5 168.3" stroke="#000" stroke-width="0.59"/>
<path d="M626.5 61.6L831.6 180.0" stroke="#000" stroke-width="0.59"/>
<path d="M627.6 68.4L690.0 104.4" stroke="#000" stroke-width="0.76"/>
<path d="M690.0 104.4L826.5 183.2" stroke="#000" stroke-width="0.59"/>
<path d="M626.5 61.6L626.5 83.6" stroke="#000" stroke-width="0.59"/>
<path d="M615.0 90.2L637.2 77.8" stroke="#000" stroke-width="0.59"/>
<path d="M624.9 63.0L629.8 66.7" stroke="#000" stroke-width="0.59"/>
<path d="M627.4 59.7L627.4 46.7L629.4 45.3L639.3 51.1" stroke="#000" stroke-width="0.59" fill="none"/>
<path d="M628.2 47.4L638.7 53.0" stroke="#000" stroke-width="0.59"/>
<path d="M626.5 60.1L657.4 43.5Q658.8 42.7 660.3 43.5L668.6 48.2Q670.4 49.2 670.4 51.1L670.4 71.3" stroke="#000" stroke-width="0.59" fill="none"/>
<path d="M634.4 63.8L664.4 48.6" stroke="#000" stroke-width="0.59"/>
<path d="M646.3 57.1L665.7 47.8Q668.4 48.2 668.6 51.1L668.6 70.0" stroke="#555" stroke-width="0.59" fill="none"/>
<path d="M655.4 62.2L661.1 58.9Q664.3 58.5 664.6 61.4L664.6 67.1" stroke="#444" stroke-width="0.59" fill="none"/>
<path d="M663.2 59.7L663.2 66.3" stroke="#aaa" stroke-width="0.59"/>
<path d="M847.5 172.0L832.0 179.7L832.0 208.1L834.7 208.1L844.4 202.5L844.4 236.5" stroke="#000" stroke-width="0.59" fill="none"/>
<path d="M834.7 208.1L834.7 181.9" stroke="#000" stroke-width="0.59"/>
<path d="M834.7 181.9L847.1 175.3" stroke="#000" stroke-width="0.59"/>
<path d="M837.6 183.4L837.6 204.4" stroke="#aaa" stroke-width="0.59"/>
<path d="M844.4 236.5L832.6 242.1L832.6 280.4L835.1 280.8L847.5 273.6" stroke="#000" stroke-width="0.59" fill="none"/>
<path d="M835.1 280.8L835.1 243.9" stroke="#000" stroke-width="0.59"/>
<path d="M835.1 243.9L847.1 238.0" stroke="#000" stroke-width="0.59"/>
<path d="M837.8 245.8L837.8 276.1" stroke="#aaa" stroke-width="0.59"/>
<path d="M846.8 203.1L846.8 236.5" stroke="#000" stroke-width="0.59"/>
<path d="M847.5 172.0L847.5 273.6L858.0 279.8L858.6 179.0L847.5 172.0" stroke="#000" stroke-width="0.59" fill="none"/>
<ellipse cx="852.4" cy="200.1" rx="2.33" ry="1.34" transform="rotate(60.0 852.4 200.1)" stroke="#000" stroke-width="0.59" fill="none"/>
<ellipse cx="852.4" cy="250.7" rx="2.33" ry="1.34" transform="rotate(60.0 852.4 250.7)" stroke="#000" stroke-width="0.59" fill="none"/>
<ellipse cx="841.9" cy="193.3" rx="1.20" ry="2.00" transform="rotate(20.0 841.9 193.3)" stroke="#000" stroke-width="0.53" fill="#444"/>
<ellipse cx="841.9" cy="256.3" rx="1.20" ry="2.00" transform="rotate(20.0 841.9 256.3)" stroke="#000" stroke-width="0.53" fill="#444"/>
<path d="M839.4 169.2L856.5 160.1Q859.0 158.7 861.7 160.1L869.1 164.6Q871.8 166.1 871.8 169.8L871.8 251.3Q871.8 255.7 868.5 257.8L859.2 263.1" stroke="#000" stroke-width="0.59" fill="none"/>
<path d="M848.1 173.2L865.4 164.6Q869.3 164.2 869.7 168.5L869.7 252.6" stroke="#bbb" stroke-width="1.06" fill="none"/>
<path d="M858.6 179.0L862.9 175.7Q866.4 174.7 866.6 179.0L866.6 246.4Q866.6 249.5 864.2 250.7L859.5 253.2" stroke="#000" stroke-width="0.59" fill="none"/>
<path d="M864.2 176.6L864.2 248.9" stroke="#888" stroke-width="0.59"/>
<path d="M850.6 171.0L867.2 163.0" stroke="#000" stroke-width="0.59"/>
<path d="M646.5 281.1L654.5 276.6" stroke="#fff" stroke-width="1.45"/>
<path d="M625.2 293.3Q624.5 288.6 627.0 286.1L635.6 280.0L640.8 283.1L645.5 280.8L647.5 282.0" stroke="#000" stroke-width="0.59" fill="#fff"/>
<path d="M626.0 294.1L646.7 282.3" stroke="#000" stroke-width="0.59"/>
<path d="M654.8 279.2L654.8 276.3" stroke="#000" stroke-width="0.59"/>
<ellipse cx="627.2" cy="290.2" rx="1.00" ry="1.30" transform="rotate(0.0 627.2 290.2)" stroke="#000" stroke-width="0.53" fill="none"/>
<ellipse cx="636.2" cy="288.3" rx="1.20" ry="0.90" transform="rotate(-30.0 636.2 288.3)" stroke="#000" stroke-width="0.53" fill="#555"/>
<path d="M654.8 230.0L654.8 173.4L720.7 135.0L724.9 138.3L724.9 215.5" stroke="#000" stroke-width="0.59" fill="none"/>
<path d="M659.4 175.9L724.9 138.3" stroke="#000" stroke-width="0.59"/>
<path d="M659.4 175.9L659.4 230.0" stroke="#000" stroke-width="0.59"/>
<path d="M654.8 173.4L659.4 175.9" stroke="#000" stroke-width="0.59"/>
<path d="M654.7 170.0L654.7 230.1" stroke="#000" stroke-width="0.59"/>
<path d="M659.3 179.9L659.3 233.4" stroke="#000" stroke-width="0.59"/>
<path d="M654.7 230.1L663.8 238.4" stroke="#000" stroke-width="0.59"/>
<path d="M663.8 180.7L742.0 226.0" stroke="#000" stroke-width="0.59"/>
<path d="M659.7 182.9L735.5 226.8" stroke="#000" stroke-width="0.59"/>
<path d="M659.7 182.9L663.8 180.7" stroke="#000" stroke-width="0.59"/>
<clipPath id="slatclipb"><path d="M620.0 296.2L760.0 215.4L760 100L620 100Z"/></clipPath>
<g clip-path="url(#slatclipb)">
<path d="M663.8 189.1L663.8 237.1L666.1 241.2L668.4 238.2L671.0 242.5L671.0 192.7" stroke="#000" stroke-width="0.79" fill="none"/>
<path d="M666.1 191.4L666.1 241.2" stroke="#999" stroke-width="0.59"/>
<path d="M668.4 192.4L668.4 238.2" stroke="#999" stroke-width="0.59"/>
<path d="M663.8 189.1L665.1 187.1L668.7 189.1L670.4 192.1L667.1 193.1L663.8 189.1" stroke="#000" stroke-width="0.79" fill="none"/>
<path d="M673.0 195.2L673.0 242.0" stroke="#bbb" stroke-width="0.59"/>
<path d="M675.6 196.0L675.6 243.9L678.0 248.0L680.3 245.1L682.9 249.3L682.9 199.6" stroke="#000" stroke-width="0.79" fill="none"/>
<path d="M678.0 198.3L678.0 248.0" stroke="#999" stroke-width="0.59"/>
<path d="M680.3 199.2L680.3 245.1" stroke="#999" stroke-width="0.59"/>
<path d="M675.6 196.0L677.0 194.0L680.6 196.0L682.2 198.9L678.9 199.9L675.6 196.0" stroke="#000" stroke-width="0.79" fill="none"/>
<path d="M684.9 202.0L684.9 248.8" stroke="#bbb" stroke-width="0.59"/>
<path d="M687.5 202.8L687.5 250.7L689.8 254.9L692.1 251.9L694.8 256.2L694.8 206.4" stroke="#000" stroke-width="0.79" fill="none"/>
<path d="M689.8 205.1L689.8 254.9" stroke="#999" stroke-width="0.59"/>
<path d="M692.1 206.1L692.1 251.9" stroke="#999" stroke-width="0.59"/>
<path d="M687.5 202.8L688.8 200.8L692.5 202.8L694.1 205.8L690.8 206.7L687.5 202.8" stroke="#000" stroke-width="0.79" fill="none"/>
<path d="M696.7 208.9L696.7 255.7" stroke="#bbb" stroke-width="0.59"/>
<path d="M699.4 209.6L699.4 257.6L701.7 261.7L704.0 258.7L706.6 263.0L706.6 213.3" stroke="#000" stroke-width="0.79" fill="none"/>
<path d="M701.7 211.9L701.7 261.7" stroke="#999" stroke-width="0.59"/>
<path d="M704.0 212.9L704.0 258.7" stroke="#999" stroke-width="0.59"/>
<path d="M699.4 209.6L700.7 207.7L704.3 209.6L706.0 212.6L702.7 213.6L699.4 209.6" stroke="#000" stroke-width="0.79" fill="none"/>
<path d="M708.6 215.7L708.6 262.5" stroke="#bbb" stroke-width="0.59"/>
<path d="M711.2 216.5L711.2 264.4L713.5 268.5L715.8 265.6L718.5 269.9L718.5 220.1" stroke="#000" stroke-width="0.79" fill="none"/>
<path d="M713.5 218.8L713.5 268.5" stroke="#999" stroke-width="0.59"/>
<path d="M715.8 219.8L715.8 265.6" stroke="#999" stroke-width="0.59"/>
<path d="M711.2 216.5L712.6 214.5L716.2 216.5L717.8 219.4L714.5 220.4L711.2 216.5" stroke="#000" stroke-width="0.79" fill="none"/>
<path d="M720.5 222.6L720.5 269.4" stroke="#bbb" stroke-width="0.59"/>
<path d="M723.1 223.3L723.1 271.3L725.4 275.4L727.7 272.4L730.4 276.7L730.4 226.9" stroke="#000" stroke-width="0.79" fill="none"/>
<path d="M725.4 225.6L725.4 275.4" stroke="#999" stroke-width="0.59"/>
<path d="M727.7 226.6L727.7 272.4" stroke="#999" stroke-width="0.59"/>
<path d="M723.1 223.3L724.4 221.3L728.0 223.3L729.7 226.3L726.4 227.3L723.1 223.3" stroke="#000" stroke-width="0.79" fill="none"/>
<path d="M732.3 229.4L732.3 276.2" stroke="#bbb" stroke-width="0.59"/>
</g>
<clipPath id="sfclipb"><path d="M663.8 180.7L742.0 226.0L742.0 100L663.8 100Z"/></clipPath>
<g clip-path="url(#sfclipb)">
<ellipse cx="694.2" cy="192.3" rx="16.78" ry="9.69" transform="rotate(-60.0 694.2 192.3)" stroke="#000" stroke-width="0.73" fill="none"/>
<ellipse cx="694.2" cy="192.3" rx="14.94" ry="8.63" transform="rotate(-60.0 694.2 192.3)" stroke="#000" stroke-width="0.53" fill="none"/>
<path d="M695.3 187.7L695.3 179.5" stroke="#000" stroke-width="0.53"/>
<path d="M693.1 189.0L693.1 180.8" stroke="#000" stroke-width="0.53"/>
<path d="M702.6 186.1L702.3 184.8L701.9 183.7L701.2 182.7L700.4 182.0L699.5 181.6L698.4 181.4L697.2 181.4L696.0 181.7L695.9 186.8Z" stroke="#000" stroke-width="0.53" fill="none"/>
<path d="M699.5 187.1L707.7 191.9L700.6 204.2L692.4 199.5Z" stroke="#fff" stroke-width="0.01" fill="#fff"/>
<ellipse cx="695.9" cy="193.3" rx="7.10" ry="4.10" transform="rotate(-60.0 695.9 193.3)" stroke="#000" stroke-width="0.53" fill="#fff"/>
<path d="M699.5 187.1L707.7 191.9L700.6 204.2L692.4 199.5Z" stroke="#fff" stroke-width="0.01" fill="#fff"/>
<path d="M699.5 187.1L707.7 191.9" stroke="#000" stroke-width="0.59"/>
<path d="M692.4 199.5L700.6 204.2" stroke="#000" stroke-width="0.59"/>
<ellipse cx="704.2" cy="198.1" rx="7.10" ry="4.10" transform="rotate(-60.0 704.2 198.1)" stroke="#000" stroke-width="0.59" fill="#fff"/>
<path d="M702.9 189.1L701.7 188.8L700.2 189.1L698.6 190.0L697.1 191.4L695.8 193.2L694.9 195.3L694.4 197.3L694.4 199.1L694.9 200.5L695.8 201.5" stroke="#000" stroke-width="0.53" fill="none"/>
</g>
<path d="M725.7 143.0L745.5 154.5" stroke="#000" stroke-width="0.59"/>
<path d="M726.0 145.4L743.8 155.8" stroke="#000" stroke-width="0.59"/>
<path d="M745.5 154.5L745.5 159.4" stroke="#000" stroke-width="0.59"/>
<ellipse cx="727.0" cy="157.8" rx="3.20" ry="1.90" transform="rotate(-30.0 727.0 157.8)" stroke="#000" stroke-width="0.59" fill="#fff"/>
<ellipse cx="726.5" cy="164.4" rx="3.20" ry="1.90" transform="rotate(-30.0 726.5 164.4)" stroke="#000" stroke-width="0.59" fill="#fff"/>
<ellipse cx="726.2" cy="171.0" rx="3.20" ry="1.90" transform="rotate(-30.0 726.2 171.0)" stroke="#000" stroke-width="0.59" fill="#fff"/>
<path d="M728.2 163.6L734.7 167.2L734.7 172.6L728.2 169.0Z" stroke="#000" stroke-width="0.59" fill="none"/>
<path d="M729.5 165.5L733.6 167.8L733.6 171.0L729.5 168.7Z" stroke="#000" stroke-width="0.53" fill="none"/>
<path d="M728.2 173.4L734.7 177.1L734.7 182.5L728.2 178.9Z" stroke="#000" stroke-width="0.59" fill="none"/>
<path d="M729.5 175.4L733.6 177.7L733.6 180.9L729.5 178.5Z" stroke="#000" stroke-width="0.53" fill="none"/>
<path d="M729.0 157.8L736.4 161.9" stroke="#000" stroke-width="0.59"/>
<path d="M750.2 170.8L750.2 156.6Q750.2 152.9 754.5 152.2Q756.0 152.2 757.6 153.2L811.4 184.4" stroke="#000" stroke-width="0.59" fill="none"/>
<path d="M757.6 156.6L808.9 186.2" stroke="#000" stroke-width="0.59"/>
<path d="M764.4 154.7L813.9 182.9" stroke="#000" stroke-width="0.59"/>
<ellipse cx="755.5" cy="160.6" rx="3.18" ry="1.84" transform="rotate(60.0 755.5 160.6)" stroke="#000" stroke-width="0.59" fill="none"/>
<ellipse cx="755.5" cy="160.6" rx="1.59" ry="0.92" transform="rotate(60.0 755.5 160.6)" stroke="#000" stroke-width="0.46" fill="none"/>
<ellipse cx="804.0" cy="187.1" rx="2.69" ry="1.56" transform="rotate(60.0 804.0 187.1)" stroke="#000" stroke-width="0.59" fill="none"/>
<ellipse cx="790.4" cy="194.9" rx="2.69" ry="1.56" transform="rotate(60.0 790.4 194.9)" stroke="#000" stroke-width="0.59" fill="none"/>
<clipPath id="fbclipb"><path d="M700.0 250.0L840.0 169.2L840 100L700 100Z"/></clipPath>
<g clip-path="url(#fbclipb)">
<path d="M794.2 219.8L795.8 218.1L797.0 216.1L798.0 213.8L798.6 211.2L799.0 208.3L799.0 205.2L798.7 202.0L798.1 198.7L797.2 195.2L796.0 191.8L794.6 188.4L792.8 185.0L790.9 181.8L788.7 178.7L786.4 175.9L784.0 173.3L781.4 170.9L778.8 168.9L776.1 167.3L773.4 166.0L770.8 165.1L768.3 164.5L765.9 164.4L763.6 164.7" stroke="#333" stroke-width="0.59" fill="none"/>
<path d="M796.4 218.5L797.7 217.1L798.8 215.6L799.7 213.8L800.4 211.8L800.9 209.6L801.1 207.3L801.2 204.8L801.1 202.3L800.7 199.6L800.2 196.8L799.4 194.0L798.5 191.2L797.4 188.4L796.1 185.7L794.6 182.9L793.0 180.3L791.2 177.8L789.4 175.4L787.4 173.2L785.3 171.2L783.2 169.4L781.1 167.7L778.9 166.3L776.7 165.2" stroke="#888" stroke-width="0.53" fill="none"/>
</g>
<g clip-path="url(#fbclipb)">
<path d="M736.4 222.9L736.4 166.5Q736.4 162.5 739.9 164.5L788.8 192.7L788.8 253.1L736.4 222.9Z" stroke="#000" stroke-width="0.59" fill="#fff"/>
<ellipse cx="762.8" cy="207.7" rx="6.12" ry="3.73" transform="rotate(58.0 762.8 207.7)" stroke="#000" stroke-width="0.89" fill="none"/>
<ellipse cx="762.9" cy="207.6" rx="12.12" ry="7.38" transform="rotate(58.0 762.9 207.6)" stroke="#000" stroke-width="0.89" fill="none"/>
<ellipse cx="763.0" cy="207.5" rx="18.25" ry="11.10" transform="rotate(58.0 763.0 207.5)" stroke="#000" stroke-width="0.89" fill="none"/>
<ellipse cx="763.2" cy="207.4" rx="24.25" ry="14.75" transform="rotate(58.0 763.2 207.4)" stroke="#000" stroke-width="0.89" fill="none"/>
<ellipse cx="763.3" cy="207.3" rx="30.25" ry="18.40" transform="rotate(58.0 763.3 207.3)" stroke="#000" stroke-width="0.89" fill="none"/>
<ellipse cx="763.5" cy="207.2" rx="36.25" ry="22.05" transform="rotate(58.0 763.5 207.2)" stroke="#000" stroke-width="0.89" fill="none"/>
<ellipse cx="762.6" cy="207.8" rx="2.94" ry="1.70" transform="rotate(60.0 762.6 207.8)" stroke="#000" stroke-width="0.73" fill="none"/>
<ellipse cx="742.1" cy="168.3" rx="3.18" ry="1.84" transform="rotate(60.0 742.1 168.3)" stroke="#000" stroke-width="0.59" fill="#fff"/>
<path d="M743.6 171.5L761.9 205.2" stroke="#000" stroke-width="0.79"/>
</g>
<path d="M833.6 179.4L833.6 209.1" stroke="#ccc" stroke-width="1.32"/>
<path d="M117.4 375.2L217.5 375.2" stroke="#000" stroke-width="0.59"/>
<path d="M394.6 211.3L437.3 236.0L437.3 320.2L394.6 295.6Z" stroke="#fff" stroke-width="0.01" fill="#fff"/>
<path d="M437.3 236.0L505.7 196.5L505.7 280.8L437.3 320.2Z" stroke="#fff" stroke-width="0.01" fill="#fff"/>
<path d="M394.6 295.6L394.6 211.3L437.3 236.0L505.7 196.5" stroke="#000" stroke-width="0.59" fill="none"/>
<path d="M394.6 295.6L437.3 320.2L505.7 280.8" stroke="#000" stroke-width="0.59" fill="none"/>
<path d="M437.3 236.0L437.3 320.2" stroke="#c4c4c4" stroke-width="0.86"/>
<path d="M505.7 196.5L505.7 280.8" stroke="#aaa" stroke-width="0.66"/>
<path d="M394.6 211.3L440.6 184.7" stroke="#000" stroke-width="0.59"/>
<path d="M459.0 169.4L505.7 196.5" stroke="#000" stroke-width="0.59"/>
<path d="M433.2 178.4L433.3 183.0L440.6 187.5L445.5 184.6L450.9 188.1L461.6 181.7L461.6 179.2L458.3 177.6L463.3 174.7L463.3 172.2L458.3 169.4L458.3 163.2" stroke="#000" stroke-width="0.59" fill="#fff"/>
<path d="M434.7 182.1L457.9 169.4" stroke="#000" stroke-width="0.59"/>
<circle cx="450.5" cy="179.2" r="0.80" stroke="#000" stroke-width="0.40" fill="#333"/>
<path d="M430.1 178.7L458.3 162.5" stroke="#222" stroke-width="0.73"/>
<path d="M431.0 179.3L458.7 163.5" stroke="#555" stroke-width="0.53"/>
<path d="M430.1 178.7L433.2 180.6" stroke="#000" stroke-width="0.53"/>
<ellipse cx="444.0" cy="205.9" rx="21.40" ry="12.40" transform="rotate(0.0 444.0 205.9)" stroke="#333" stroke-width="0.56" fill="none"/>
<ellipse cx="444.0" cy="205.9" rx="17.30" ry="10.00" transform="rotate(0.0 444.0 205.9)" stroke="#333" stroke-width="0.56" fill="none"/>
<ellipse cx="444.0" cy="205.9" rx="11.00" ry="6.40" transform="rotate(0.0 444.0 205.9)" stroke="#333" stroke-width="0.56" fill="none"/>
<ellipse cx="444.0" cy="205.9" rx="8.30" ry="4.80" transform="rotate(0.0 444.0 205.9)" stroke="#333" stroke-width="0.56" fill="none"/>
<path d="M444.0 195.5L444.0 199.9" stroke="#fff" stroke-width="2.11"/>
<path d="M444.0 211.9L444.0 216.3" stroke="#fff" stroke-width="2.11"/>
<path d="M442.7 195.9L442.7 199.7" stroke="#333" stroke-width="0.56"/>
<path d="M442.7 212.1L442.7 215.9" stroke="#333" stroke-width="0.56"/>
<path d="M445.3 195.9L445.3 199.7" stroke="#333" stroke-width="0.56"/>
<path d="M445.3 212.1L445.3 215.9" stroke="#333" stroke-width="0.56"/>
<path d="M455.3 205.9L461.0 205.9" stroke="#fff" stroke-width="2.11"/>
<path d="M427.0 205.9L432.7 205.9" stroke="#fff" stroke-width="1.32"/>
<path d="M455.0 204.6L461.3 204.6" stroke="#aaa" stroke-width="0.56"/>
<path d="M455.0 207.2L461.3 207.2" stroke="#aaa" stroke-width="0.56"/>
<path d="M422.6 205.9L435.7 205.9" stroke="#333" stroke-width="0.56"/>
<path d="M395.0 220.0Q394.8 216.7 399.1 215.3L417.6 226.0Q421.4 228.1 420.3 231.4Q417.6 233.8 414.9 232.7L398.6 224.0Q395.3 222.7 395.0 220.0Z" stroke="#000" stroke-width="0.59" fill="none"/>
<path d="M401.3 220.0L413.0 226.5L413.0 232.0L401.3 225.4Z" stroke="#000" stroke-width="0.66" fill="#eee"/>
<path d="M402.9 222.2L411.6 227.1L411.6 230.3L402.9 225.4Z" stroke="#000" stroke-width="0.53" fill="none"/>
<path d="M405.1 227.9L410.5 231.0" stroke="#222" stroke-width="1.06"/>
<ellipse cx="396.7" cy="220.2" rx="1.96" ry="1.13" transform="rotate(60.0 396.7 220.2)" stroke="#000" stroke-width="0.53" fill="none"/>
<ellipse cx="417.2" cy="230.5" rx="1.96" ry="1.13" transform="rotate(60.0 417.2 230.5)" stroke="#000" stroke-width="0.53" fill="none"/>
<path d="M425.8 232.3L432.8 236.3L432.8 241.4L425.8 237.4Z" stroke="#000" stroke-width="0.59" fill="none"/>
<path d="M427.2 234.1L431.5 236.5L431.5 239.9L427.2 237.5Z" stroke="#000" stroke-width="0.53" fill="#ddd"/>
<path d="M422.5 240.6L423.0 238.5L425.8 239.2L431.7 242.8L431.7 246.6" stroke="#000" stroke-width="0.53" fill="none"/>
<path d="M394.6 227.9L414.9 239.2" stroke="#000" stroke-width="0.59"/>
<path d="M416.5 241.0L437.2 252.6" stroke="#000" stroke-width="0.59"/>
<path d="M414.9 239.2L414.9 305.9" stroke="#000" stroke-width="0.59"/>
<path d="M416.5 241.0L416.5 307.0" stroke="#000" stroke-width="0.59"/>
<path d="M395.9 229.8L395.9 292.8" stroke="#666" stroke-width="0.53"/>
<path d="M394.6 293.4L414.9 305.9" stroke="#000" stroke-width="0.59"/>
<path d="M416.5 307.0L437.2 319.2" stroke="#000" stroke-width="0.59"/>
<path d="M400.2 245.0L413.5 252.6L413.5 278.1L400.2 270.5Z" stroke="#fff" stroke-width="0.01" fill="#f2f2f2"/>
<path d="M400.2 245.0L400.2 270.5" stroke="#555" stroke-width="0.46"/>
<path d="M401.7 245.8L401.7 271.4" stroke="#555" stroke-width="0.46"/>
<path d="M403.2 246.7L403.2 272.2" stroke="#555" stroke-width="0.46"/>
<path d="M404.6 247.5L404.6 273.1" stroke="#555" stroke-width="0.46"/>
<path d="M406.1 248.4L406.1 273.9" stroke="#555" stroke-width="0.46"/>
<path d="M407.6 249.2L407.6 274.8" stroke="#555" stroke-width="0.46"/>
<path d="M409.1 250.1L409.1 275.6" stroke="#555" stroke-width="0.46"/>
<path d="M410.5 250.9L410.5 276.5" stroke="#555" stroke-width="0.46"/>
<path d="M412.0 251.8L412.0 277.3" stroke="#555" stroke-width="0.46"/>
<path d="M413.5 252.6L413.5 278.2" stroke="#555" stroke-width="0.46"/>
<path d="M400.2 245.0L413.5 252.6" stroke="#666" stroke-width="0.40"/>
<path d="M400.2 246.7L413.5 254.3" stroke="#666" stroke-width="0.40"/>
<path d="M400.2 248.4L413.5 256.0" stroke="#666" stroke-width="0.40"/>
<path d="M400.2 250.1L413.5 257.7" stroke="#666" stroke-width="0.40"/>
<path d="M400.2 251.8L413.5 259.4" stroke="#666" stroke-width="0.40"/>
<path d="M400.2 253.5L413.5 261.1" stroke="#666" stroke-width="0.40"/>
<path d="M400.2 255.2L413.5 262.8" stroke="#666" stroke-width="0.40"/>
<path d="M400.2 256.9L413.5 264.5" stroke="#666" stroke-width="0.40"/>
<path d="M400.2 258.6L413.5 266.2" stroke="#666" stroke-width="0.40"/>
<path d="M400.2 260.3L413.5 267.9" stroke="#666" stroke-width="0.40"/>
<path d="M400.2 262.0L413.5 269.6" stroke="#666" stroke-width="0.40"/>
<path d="M400.2 263.6L413.5 271.3" stroke="#666" stroke-width="0.40"/>
<path d="M400.2 265.3L413.5 273.0" stroke="#666" stroke-width="0.40"/>
<path d="M400.2 267.0L413.5 274.6" stroke="#666" stroke-width="0.40"/>
<path d="M400.2 268.7L413.5 276.3" stroke="#666" stroke-width="0.40"/>
<path d="M400.2 270.4L413.5 278.0" stroke="#666" stroke-width="0.40"/>
<path d="M406.7 259.7L406.7 268.4" stroke="#222" stroke-width="1.06"/>
<path d="M402.4 268.4L405.1 270.0" stroke="#222" stroke-width="1.06"/>
<path d="M407.6 241.0L402.9 237.9Q401.3 237.1 400.0 238.1L394.1 243.6Q393.2 244.7 393.2 246.4L393.2 276.2Q393.2 277.9 394.8 278.9L401.1 282.5Q402.4 283.1 403.7 282.1L408.0 279.0" stroke="#000" stroke-width="0.59" fill="none"/>
<path d="M408.0 242.5L399.8 246.6Q398.5 247.5 398.5 249.0L398.5 274.9Q398.5 276.5 400.0 277.3L402.7 278.8L407.4 276.2" stroke="#000" stroke-width="0.59" fill="none"/>
<path d="M393.7 245.0L398.0 247.5L398.0 276.2L393.7 277.3Z" stroke="#fff" stroke-width="0.01" fill="#fff"/>
<path d="M393.2 246.4L393.2 276.2" stroke="#000" stroke-width="0.59"/>
<path d="M398.5 249.0L398.5 274.9" stroke="#000" stroke-width="0.59"/>
<path d="M398.3 283.0L401.3 284.7L401.3 290.1L398.3 288.5Z" stroke="#000" stroke-width="0.53" fill="none"/>
<path d="M405.1 287.1L413.5 291.7L413.5 301.5L405.1 296.6Z" stroke="#000" stroke-width="0.66" fill="none"/>
<path d="M406.7 289.6L412.2 292.5L412.2 299.3L406.7 296.3Z" stroke="#000" stroke-width="0.59" fill="none"/>
<path d="M413.0 292.3L413.0 301.0" stroke="#333" stroke-width="0.86"/>
<path d="M422.0 257.6L435.2 265.2L435.2 290.8L422.0 283.1Z" stroke="#fff" stroke-width="0.01" fill="#f2f2f2"/>
<path d="M422.0 257.6L422.0 283.1" stroke="#555" stroke-width="0.46"/>
<path d="M423.4 258.5L423.4 284.0" stroke="#555" stroke-width="0.46"/>
<path d="M424.9 259.3L424.9 284.8" stroke="#555" stroke-width="0.46"/>
<path d="M426.4 260.2L426.4 285.7" stroke="#555" stroke-width="0.46"/>
<path d="M427.9 261.0L427.9 286.5" stroke="#555" stroke-width="0.46"/>
<path d="M429.3 261.9L429.3 287.4" stroke="#555" stroke-width="0.46"/>
<path d="M430.8 262.7L430.8 288.2" stroke="#555" stroke-width="0.46"/>
<path d="M432.3 263.6L432.3 289.1" stroke="#555" stroke-width="0.46"/>
<path d="M433.7 264.4L433.7 289.9" stroke="#555" stroke-width="0.46"/>
<path d="M435.2 265.3L435.2 290.8" stroke="#555" stroke-width="0.46"/>
<path d="M422.0 257.6L435.2 265.2" stroke="#666" stroke-width="0.40"/>
<path d="M422.0 259.3L435.2 266.9" stroke="#666" stroke-width="0.40"/>
<path d="M422.0 261.0L435.2 268.6" stroke="#666" stroke-width="0.40"/>
<path d="M422.0 262.7L435.2 270.3" stroke="#666" stroke-width="0.40"/>
<path d="M422.0 264.4L435.2 272.0" stroke="#666" stroke-width="0.40"/>
<path d="M422.0 266.1L435.2 273.7" stroke="#666" stroke-width="0.40"/>
<path d="M422.0 267.8L435.2 275.4" stroke="#666" stroke-width="0.40"/>
<path d="M422.0 269.5L435.2 277.1" stroke="#666" stroke-width="0.40"/>
<path d="M422.0 271.2L435.2 278.8" stroke="#666" stroke-width="0.40"/>
<path d="M422.0 272.9L435.2 280.5" stroke="#666" stroke-width="0.40"/>
<path d="M422.0 274.6L435.2 282.2" stroke="#666" stroke-width="0.40"/>
<path d="M422.0 276.3L435.2 283.9" stroke="#666" stroke-width="0.40"/>
<path d="M422.0 278.0L435.2 285.6" stroke="#666" stroke-width="0.40"/>
<path d="M422.0 279.6L435.2 287.3" stroke="#666" stroke-width="0.40"/>
<path d="M422.0 281.3L435.2 289.0" stroke="#666" stroke-width="0.40"/>
<path d="M422.0 283.0L435.2 290.6" stroke="#666" stroke-width="0.40"/>
<path d="M428.5 272.3L428.5 281.0" stroke="#222" stroke-width="1.06"/>
<path d="M424.1 281.0L426.8 282.6" stroke="#222" stroke-width="1.06"/>
<path d="M429.3 253.6L424.7 250.5Q423.0 249.7 421.7 250.8L415.9 256.2Q414.9 257.3 414.9 259.0L414.9 288.8Q414.9 290.5 416.5 291.5L422.8 295.1Q424.1 295.8 425.4 294.7L429.8 291.6" stroke="#000" stroke-width="0.59" fill="none"/>
<path d="M429.8 255.1L421.5 259.2Q420.2 260.1 420.2 261.6L420.2 287.5Q420.2 289.1 421.7 289.9L424.5 291.4L429.1 288.8" stroke="#000" stroke-width="0.59" fill="none"/>
<path d="M415.4 257.6L419.8 260.1L419.8 288.8L415.4 289.9Z" stroke="#fff" stroke-width="0.01" fill="#fff"/>
<path d="M414.9 259.0L414.9 288.8" stroke="#000" stroke-width="0.59"/>
<path d="M420.2 261.6L420.2 287.5" stroke="#000" stroke-width="0.59"/>
<path d="M420.0 295.6L423.0 297.3L423.0 302.7L420.0 301.1Z" stroke="#000" stroke-width="0.53" fill="none"/>
<path d="M426.8 299.7L435.2 304.3L435.2 314.1L426.8 309.2Z" stroke="#000" stroke-width="0.66" fill="none"/>
<path d="M428.5 302.2L433.9 305.1L433.9 312.0L428.5 308.9Z" stroke="#000" stroke-width="0.59" fill="none"/>
<path d="M434.8 304.9L434.8 313.6" stroke="#333" stroke-width="0.86"/>
<path d="M213.2 300.7L418.6 419.3L418.6 519.5L213.2 400.9Z" stroke="#000" stroke-width="0.59" fill="none"/>
<path d="M213.2 300.7L218.2 297.5L423.6 416.1" stroke="#000" stroke-width="0.59" fill="none"/>
<path d="M423.6 416.1L423.6 516.3L418.6 519.5" stroke="#999" stroke-width="0.59" fill="none"/>
<path d="M418.6 419.3L423.6 416.1" stroke="#000" stroke-width="0.59"/>
<ellipse cx="421.0" cy="426.8" rx="1.00" ry="1.50" transform="rotate(0.0 421.0 426.8)" stroke="#000" stroke-width="0.53" fill="none"/>
<ellipse cx="421.0" cy="447.1" rx="1.00" ry="1.50" transform="rotate(0.0 421.0 447.1)" stroke="#000" stroke-width="0.53" fill="none"/>
<ellipse cx="421.0" cy="467.4" rx="1.00" ry="1.50" transform="rotate(0.0 421.0 467.4)" stroke="#000" stroke-width="0.53" fill="none"/>
<ellipse cx="421.0" cy="487.7" rx="1.00" ry="1.50" transform="rotate(0.0 421.0 487.7)" stroke="#000" stroke-width="0.53" fill="none"/>
<ellipse cx="421.0" cy="508.0" rx="1.00" ry="1.50" transform="rotate(0.0 421.0 508.0)" stroke="#000" stroke-width="0.53" fill="none"/>
<path d="M266.9 357.1L412.0 440.9Q415.0 442.6 415.0 446.1L415.0 499.1Q415.0 502.6 412.0 500.9L266.9 417.1Q263.9 415.4 263.9 411.9L263.9 358.9Q263.9 355.4 266.9 357.1Z" stroke="#000" stroke-width="0.59" fill="none"/>
<path d="M267.3 356.4L267.3 409.9Q267.3 413.4 270.3 415.1L415.8 499.1" stroke="#000" stroke-width="0.59" fill="none"/>
<ellipse cx="277.3" cy="358.7" rx="2.20" ry="1.27" transform="rotate(60.0 277.3 358.7)" stroke="#000" stroke-width="0.53" fill="none"/>
<ellipse cx="318.5" cy="382.9" rx="2.20" ry="1.27" transform="rotate(60.0 318.5 382.9)" stroke="#000" stroke-width="0.53" fill="none"/>
<ellipse cx="359.7" cy="406.9" rx="2.20" ry="1.27" transform="rotate(60.0 359.7 406.9)" stroke="#000" stroke-width="0.53" fill="none"/>
<ellipse cx="403.0" cy="430.8" rx="2.20" ry="1.27" transform="rotate(60.0 403.0 430.8)" stroke="#000" stroke-width="0.53" fill="none"/>
<ellipse cx="301.2" cy="445.2" rx="2.20" ry="1.27" transform="rotate(60.0 301.2 445.2)" stroke="#000" stroke-width="0.53" fill="none"/>
<ellipse cx="339.3" cy="467.4" rx="2.20" ry="1.27" transform="rotate(60.0 339.3 467.4)" stroke="#000" stroke-width="0.53" fill="none"/>
<ellipse cx="377.0" cy="489.1" rx="2.20" ry="1.27" transform="rotate(60.0 377.0 489.1)" stroke="#000" stroke-width="0.53" fill="none"/>
<ellipse cx="414.5" cy="510.7" rx="2.20" ry="1.27" transform="rotate(60.0 414.5 510.7)" stroke="#000" stroke-width="0.53" fill="none"/>
<ellipse cx="262.9" cy="423.3" rx="2.20" ry="1.27" transform="rotate(60.0 262.9 423.3)" stroke="#000" stroke-width="0.53" fill="none"/>
<ellipse cx="294.6" cy="359.3" rx="1.71" ry="0.99" transform="rotate(60.0 294.6 359.3)" stroke="#000" stroke-width="0.53" fill="none"/>
<ellipse cx="390.6" cy="414.7" rx="1.71" ry="0.99" transform="rotate(60.0 390.6 414.7)" stroke="#000" stroke-width="0.53" fill="none"/>
<ellipse cx="268.6" cy="346.6" rx="4.20" ry="1.90" transform="rotate(28.0 268.6 346.6)" stroke="#000" stroke-width="0.53" fill="none"/>
<ellipse cx="268.6" cy="346.6" rx="1.80" ry="1.00" transform="rotate(28.0 268.6 346.6)" stroke="#000" stroke-width="0.46" fill="none"/>
<path d="M280.7 346.0L280.7 356.7" stroke="#222" stroke-width="1.98"/>
<path d="M280.7 347.2L280.7 356.1" stroke="#eee" stroke-width="0.99"/>
<path d="M283.8 347.8L283.8 358.5" stroke="#222" stroke-width="1.98"/>
<path d="M283.8 349.0L283.8 357.9" stroke="#eee" stroke-width="0.99"/>
<path d="M286.8 349.6L286.8 360.2" stroke="#222" stroke-width="1.98"/>
<path d="M286.8 350.8L286.8 359.6" stroke="#eee" stroke-width="0.99"/>
<path d="M289.9 351.3L289.9 362.0" stroke="#222" stroke-width="1.98"/>
<path d="M289.9 352.5L289.9 361.4" stroke="#eee" stroke-width="0.99"/>
<path d="M395.8 413.2L395.8 423.9" stroke="#222" stroke-width="1.98"/>
<path d="M395.8 414.4L395.8 423.3" stroke="#eee" stroke-width="0.99"/>
<path d="M399.2 415.2L399.2 425.9" stroke="#222" stroke-width="1.98"/>
<path d="M399.2 416.4L399.2 425.3" stroke="#eee" stroke-width="0.99"/>
<path d="M402.7 417.2L402.7 427.9" stroke="#222" stroke-width="1.98"/>
<path d="M402.7 418.4L402.7 427.3" stroke="#eee" stroke-width="0.99"/>
<path d="M406.2 419.2L406.2 429.9" stroke="#222" stroke-width="1.98"/>
<path d="M406.2 420.4L406.2 429.3" stroke="#eee" stroke-width="0.99"/>
<path d="M277.7 344.4L277.7 354.7" stroke="#000" stroke-width="0.53"/>
<path d="M299.6 358.6L301.2 359.5L301.2 367.9L299.6 367.0Z" stroke="#aaa" stroke-width="0.01" fill="#aaa"/>
<path d="M298.3 357.9L298.3 366.2" stroke="#333" stroke-width="0.53"/>
<path d="M302.5 360.3L304.0 361.2L304.0 369.5L302.5 368.6Z" stroke="#e4e4e4" stroke-width="0.01" fill="#e4e4e4"/>
<path d="M301.2 359.5L301.2 367.9" stroke="#333" stroke-width="0.53"/>
<path d="M305.3 361.9L306.9 362.8L306.9 371.2L305.3 370.3Z" stroke="#aaa" stroke-width="0.01" fill="#aaa"/>
<path d="M304.0 361.2L304.0 369.5" stroke="#333" stroke-width="0.53"/>
<path d="M308.2 363.5L309.7 364.4L309.7 372.8L308.2 371.9Z" stroke="#e4e4e4" stroke-width="0.01" fill="#e4e4e4"/>
<path d="M306.9 362.8L306.9 371.2" stroke="#333" stroke-width="0.53"/>
<path d="M311.0 365.2L312.6 366.1L312.6 374.5L311.0 373.6Z" stroke="#aaa" stroke-width="0.01" fill="#aaa"/>
<path d="M309.7 364.4L309.7 372.8" stroke="#333" stroke-width="0.53"/>
<path d="M313.9 366.8L315.5 367.7L315.5 376.1L313.9 375.2Z" stroke="#e4e4e4" stroke-width="0.01" fill="#e4e4e4"/>
<path d="M312.6 366.1L312.6 374.5" stroke="#333" stroke-width="0.53"/>
<path d="M316.7 368.5L318.3 369.4L318.3 377.8L316.7 376.9Z" stroke="#aaa" stroke-width="0.01" fill="#aaa"/>
<path d="M315.5 367.7L315.5 376.1" stroke="#333" stroke-width="0.53"/>
<path d="M319.6 370.1L321.2 371.0L321.2 379.4L319.6 378.5Z" stroke="#e4e4e4" stroke-width="0.01" fill="#e4e4e4"/>
<path d="M318.3 369.4L318.3 377.8" stroke="#333" stroke-width="0.53"/>
<path d="M322.5 371.8L324.0 372.7L324.0 381.0L322.5 380.1Z" stroke="#aaa" stroke-width="0.01" fill="#aaa"/>
<path d="M321.2 371.0L321.2 379.4" stroke="#333" stroke-width="0.53"/>
<path d="M325.3 373.4L326.9 374.3L326.9 382.7L325.3 381.8Z" stroke="#e4e4e4" stroke-width="0.01" fill="#e4e4e4"/>
<path d="M324.0 372.7L324.0 381.0" stroke="#333" stroke-width="0.53"/>
<path d="M328.2 375.1L329.7 376.0L329.7 384.3L328.2 383.4Z" stroke="#aaa" stroke-width="0.01" fill="#aaa"/>
<path d="M326.9 374.3L326.9 382.7" stroke="#333" stroke-width="0.53"/>
<path d="M331.0 376.7L332.6 377.6L332.6 386.0L331.0 385.1Z" stroke="#e4e4e4" stroke-width="0.01" fill="#e4e4e4"/>
<path d="M329.7 376.0L329.7 384.3" stroke="#333" stroke-width="0.53"/>
<path d="M333.9 378.4L335.4 379.3L335.4 387.6L333.9 386.7Z" stroke="#aaa" stroke-width="0.01" fill="#aaa"/>
<path d="M332.6 377.6L332.6 386.0" stroke="#333" stroke-width="0.53"/>
<path d="M298.3 357.9L335.4 379.3L335.4 387.6L298.3 366.2Z" stroke="#000" stroke-width="0.59" fill="none"/>
<path d="M351.5 388.6L353.1 389.5L353.1 397.9L351.5 397.0Z" stroke="#aaa" stroke-width="0.01" fill="#aaa"/>
<path d="M350.2 387.8L350.2 396.2" stroke="#333" stroke-width="0.53"/>
<path d="M354.4 390.2L355.9 391.1L355.9 399.5L354.4 398.6Z" stroke="#e4e4e4" stroke-width="0.01" fill="#e4e4e4"/>
<path d="M353.1 389.5L353.1 397.9" stroke="#333" stroke-width="0.53"/>
<path d="M357.2 391.9L358.8 392.8L358.8 401.2L357.2 400.3Z" stroke="#aaa" stroke-width="0.01" fill="#aaa"/>
<path d="M355.9 391.1L355.9 399.5" stroke="#333" stroke-width="0.53"/>
<path d="M360.1 393.5L361.6 394.4L361.6 402.8L360.1 401.9Z" stroke="#e4e4e4" stroke-width="0.01" fill="#e4e4e4"/>
<path d="M358.8 392.8L358.8 401.2" stroke="#333" stroke-width="0.53"/>
<path d="M362.9 395.2L364.5 396.1L364.5 404.4L362.9 403.5Z" stroke="#aaa" stroke-width="0.01" fill="#aaa"/>
<path d="M361.6 394.4L361.6 402.8" stroke="#333" stroke-width="0.53"/>
<path d="M365.8 396.8L367.4 397.7L367.4 406.1L365.8 405.2Z" stroke="#e4e4e4" stroke-width="0.01" fill="#e4e4e4"/>
<path d="M364.5 396.1L364.5 404.4" stroke="#333" stroke-width="0.53"/>
<path d="M368.7 398.5L370.2 399.4L370.2 407.7L368.7 406.8Z" stroke="#aaa" stroke-width="0.01" fill="#aaa"/>
<path d="M367.4 397.7L367.4 406.1" stroke="#333" stroke-width="0.53"/>
<path d="M371.5 400.1L373.1 401.0L373.1 409.4L371.5 408.5Z" stroke="#e4e4e4" stroke-width="0.01" fill="#e4e4e4"/>
<path d="M370.2 399.4L370.2 407.7" stroke="#333" stroke-width="0.53"/>
<path d="M374.4 401.8L375.9 402.7L375.9 411.0L374.4 410.1Z" stroke="#aaa" stroke-width="0.01" fill="#aaa"/>
<path d="M373.1 401.0L373.1 409.4" stroke="#333" stroke-width="0.53"/>
<path d="M377.2 403.4L378.8 404.3L378.8 412.7L377.2 411.8Z" stroke="#e4e4e4" stroke-width="0.01" fill="#e4e4e4"/>
<path d="M375.9 402.7L375.9 411.0" stroke="#333" stroke-width="0.53"/>
<path d="M380.1 405.1L381.6 406.0L381.6 414.3L380.1 413.4Z" stroke="#aaa" stroke-width="0.01" fill="#aaa"/>
<path d="M378.8 404.3L378.8 412.7" stroke="#333" stroke-width="0.53"/>
<path d="M382.9 406.7L384.5 407.6L384.5 416.0L382.9 415.1Z" stroke="#e4e4e4" stroke-width="0.01" fill="#e4e4e4"/>
<path d="M381.6 406.0L381.6 414.3" stroke="#333" stroke-width="0.53"/>
<path d="M385.8 408.4L387.3 409.3L387.3 417.6L385.8 416.7Z" stroke="#aaa" stroke-width="0.01" fill="#aaa"/>
<path d="M384.5 407.6L384.5 416.0" stroke="#333" stroke-width="0.53"/>
<path d="M350.2 387.8L387.3 409.3L387.3 417.6L350.2 396.2Z" stroke="#000" stroke-width="0.59" fill="none"/>
<path d="M220.4 322.6L258.7 344.7L258.7 420.1L218.2 396.7L218.2 323.8Q218.2 321.3 220.4 322.6Z" stroke="#000" stroke-width="0.59" fill="none"/>
<path d="M220.7 322.9L220.7 395.3L258.6 417.2" stroke="#000" stroke-width="0.59" fill="none"/>
<path d="M235.4 440.9L262.9 423.3" stroke="#000" stroke-width="0.59"/>
<ellipse cx="228.2" cy="445.0" rx="0.90" ry="2.20" transform="rotate(-30.0 228.2 445.0)" stroke="#000" stroke-width="0.59" fill="#fff"/>
<path d="M229.0 444.5L233.5 441.9" stroke="#222" stroke-width="1.65"/>
<path d="M229.5 442.9L230.7 444.9" stroke="#ccc" stroke-width="0.36"/>
<path d="M230.7 442.2L231.9 444.2" stroke="#ccc" stroke-width="0.36"/>
<path d="M231.9 441.5L233.1 443.5" stroke="#ccc" stroke-width="0.36"/>
<path d="M385.3 527.5L414.5 510.7" stroke="#000" stroke-width="0.59"/>
<ellipse cx="378.1" cy="531.7" rx="0.90" ry="2.20" transform="rotate(-30.0 378.1 531.7)" stroke="#000" stroke-width="0.59" fill="#fff"/>
<path d="M378.9 531.2L383.4 528.6" stroke="#222" stroke-width="1.65"/>
<path d="M379.4 529.6L380.6 531.6" stroke="#ccc" stroke-width="0.36"/>
<path d="M380.6 528.9L381.8 530.9" stroke="#ccc" stroke-width="0.36"/>
<path d="M381.8 528.2L383.0 530.2" stroke="#ccc" stroke-width="0.36"/>
<path d="M351.4 372.4L430.8 326.2" stroke="#000" stroke-width="0.59"/>
<path d="M435.5 498.0L582.0 413.2" stroke="#000" stroke-width="0.59"/>
</g>
</svg>
<div class="lbl" style="top:365.4px">Rear cover</div>
<div class="lbl" style="top:1026.6px">Rear cover</div>
</body></html>
